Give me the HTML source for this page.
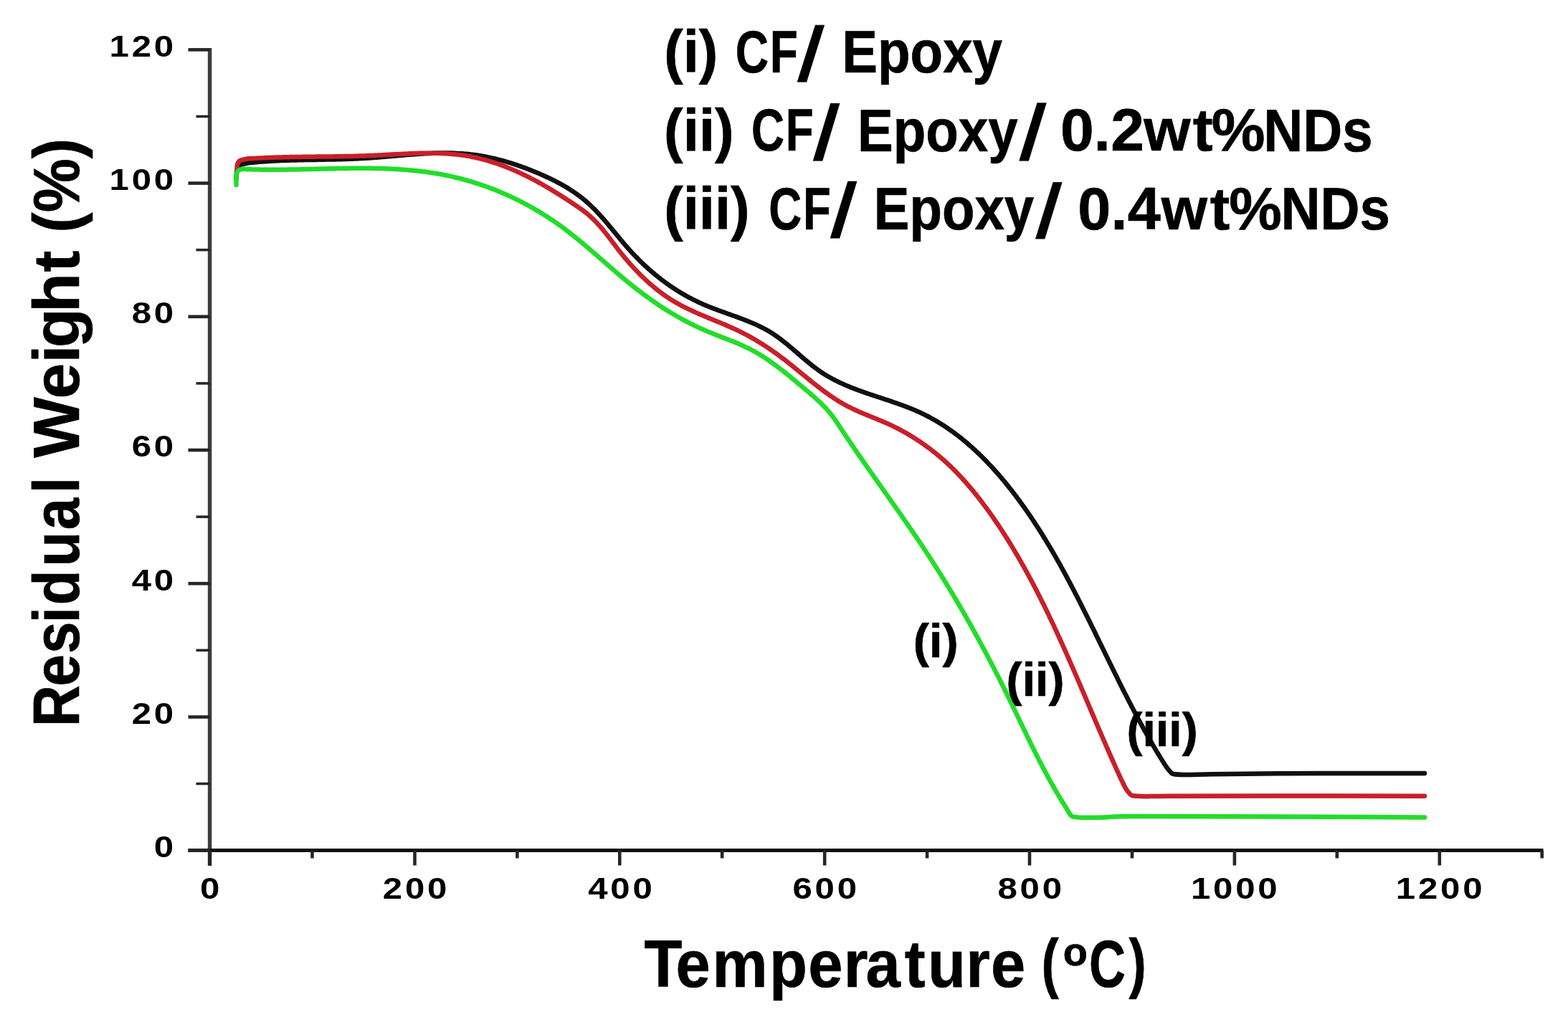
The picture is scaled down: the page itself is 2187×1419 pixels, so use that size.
<!DOCTYPE html>
<html><head><meta charset="utf-8"><title>TGA residual weight</title>
<style>html,body{margin:0;padding:0;background:#fff;}svg{display:block}</style></head>
<body><svg xmlns="http://www.w3.org/2000/svg" width="2187" height="1419" viewBox="0 0 2187 1419">
<rect width="2187" height="1419" fill="#fff"/>
<line x1="292.6" y1="66.9" x2="292.6" y2="1208" stroke="#3d3d3d" stroke-width="5.5"/><line x1="262.5" y1="1186.6" x2="2152.5" y2="1186.6" stroke="#0d0d0d" stroke-width="5"/><line x1="262.5" y1="1186.6" x2="292.6" y2="1186.6" stroke="#262626" stroke-width="4.6"/><line x1="273.5" y1="1093.5" x2="292.6" y2="1093.5" stroke="#262626" stroke-width="3.6"/><line x1="262.5" y1="1000.4" x2="292.6" y2="1000.4" stroke="#262626" stroke-width="4.6"/><line x1="273.5" y1="907.3" x2="292.6" y2="907.3" stroke="#262626" stroke-width="3.6"/><line x1="262.5" y1="814.2" x2="292.6" y2="814.2" stroke="#262626" stroke-width="4.6"/><line x1="273.5" y1="721.1" x2="292.6" y2="721.1" stroke="#262626" stroke-width="3.6"/><line x1="262.5" y1="628.0" x2="292.6" y2="628.0" stroke="#262626" stroke-width="4.6"/><line x1="273.5" y1="534.9" x2="292.6" y2="534.9" stroke="#262626" stroke-width="3.6"/><line x1="262.5" y1="441.8" x2="292.6" y2="441.8" stroke="#262626" stroke-width="4.6"/><line x1="273.5" y1="348.7" x2="292.6" y2="348.7" stroke="#262626" stroke-width="3.6"/><line x1="262.5" y1="255.6" x2="292.6" y2="255.6" stroke="#262626" stroke-width="4.6"/><line x1="273.5" y1="162.5" x2="292.6" y2="162.5" stroke="#262626" stroke-width="3.6"/><line x1="262.5" y1="69.4" x2="292.6" y2="69.4" stroke="#262626" stroke-width="4.6"/><line x1="292.6" y1="1186.6" x2="292.6" y2="1207.5" stroke="#262626" stroke-width="4.6"/><line x1="435.5" y1="1186.6" x2="435.5" y2="1197.5" stroke="#262626" stroke-width="4.6"/><line x1="578.5" y1="1186.6" x2="578.5" y2="1207.5" stroke="#262626" stroke-width="4.6"/><line x1="721.4" y1="1186.6" x2="721.4" y2="1197.5" stroke="#262626" stroke-width="4.6"/><line x1="864.3" y1="1186.6" x2="864.3" y2="1207.5" stroke="#262626" stroke-width="4.6"/><line x1="1007.2" y1="1186.6" x2="1007.2" y2="1197.5" stroke="#262626" stroke-width="4.6"/><line x1="1150.2" y1="1186.6" x2="1150.2" y2="1207.5" stroke="#262626" stroke-width="4.6"/><line x1="1293.1" y1="1186.6" x2="1293.1" y2="1197.5" stroke="#262626" stroke-width="4.6"/><line x1="1436.0" y1="1186.6" x2="1436.0" y2="1207.5" stroke="#262626" stroke-width="4.6"/><line x1="1579.0" y1="1186.6" x2="1579.0" y2="1197.5" stroke="#262626" stroke-width="4.6"/><line x1="1721.9" y1="1186.6" x2="1721.9" y2="1207.5" stroke="#262626" stroke-width="4.6"/><line x1="1864.8" y1="1186.6" x2="1864.8" y2="1197.5" stroke="#262626" stroke-width="4.6"/><line x1="2007.8" y1="1186.6" x2="2007.8" y2="1207.5" stroke="#262626" stroke-width="4.6"/><line x1="2150.7" y1="1186.6" x2="2150.7" y2="1197.5" stroke="#262626" stroke-width="4.6"/><g font-family="Liberation Sans, Arial, sans-serif" font-weight="bold" fill="#000" style="font-kerning:none"><text transform="translate(214.85,1196.00) scale(1.18,1)" font-size="41.70" letter-spacing="3.2">0</text><text transform="translate(183.71,1009.80) scale(1.18,1)" font-size="41.70" letter-spacing="3.2">20</text><text transform="translate(183.71,823.60) scale(1.18,1)" font-size="41.70" letter-spacing="3.2">40</text><text transform="translate(183.71,637.40) scale(1.18,1)" font-size="41.70" letter-spacing="3.2">60</text><text transform="translate(183.71,451.20) scale(1.18,1)" font-size="41.70" letter-spacing="3.2">80</text><text transform="translate(152.57,265.00) scale(1.18,1)" font-size="41.70" letter-spacing="3.2">100</text><text transform="translate(152.57,78.80) scale(1.18,1)" font-size="41.70" letter-spacing="3.2">120</text><text transform="translate(278.95,1253.90) scale(1.18,1)" font-size="41.70" letter-spacing="3.2">0</text><text transform="translate(533.79,1253.90) scale(1.18,1)" font-size="41.70" letter-spacing="3.2">200</text><text transform="translate(820.13,1253.90) scale(1.18,1)" font-size="41.70" letter-spacing="3.2">400</text><text transform="translate(1105.46,1253.90) scale(1.18,1)" font-size="41.70" letter-spacing="3.2">600</text><text transform="translate(1391.44,1253.90) scale(1.18,1)" font-size="41.70" letter-spacing="3.2">800</text><text transform="translate(1660.96,1253.90) scale(1.18,1)" font-size="41.70" letter-spacing="3.2">1000</text><text transform="translate(1946.82,1253.90) scale(1.18,1)" font-size="41.70" letter-spacing="3.2">1200</text></g><path d="M329.5,250.0 C329.7,248.0 329.8,241.2 330.5,238.0 C331.2,234.8 331.6,232.7 334.0,231.0 C336.4,229.3 342.8,228.1 345.0,227.5 C347.2,226.9 346.3,227.4 347.0,227.3 C347.7,227.2 348.3,227.1 349.0,227.1 C349.7,227.0 350.4,226.9 351.0,226.9 C351.7,226.8 352.4,226.7 353.0,226.7 C353.7,226.6 354.4,226.5 355.0,226.5 C355.7,226.4 356.4,226.4 357.0,226.3 C357.7,226.2 358.4,226.2 359.1,226.1 C359.7,226.1 360.4,226.0 361.1,225.9 C361.7,225.9 362.4,225.8 363.1,225.8 C363.7,225.7 364.4,225.7 365.1,225.6 C365.7,225.6 366.4,225.5 367.1,225.5 C367.7,225.4 368.4,225.4 369.1,225.3 C369.7,225.3 370.4,225.2 371.1,225.2 C371.7,225.2 372.4,225.1 373.1,225.1 C373.8,225.0 374.4,225.0 375.1,224.9 C375.8,224.9 376.4,224.9 377.1,224.8 C377.8,224.8 378.4,224.7 379.1,224.7 C379.8,224.7 380.4,224.6 381.1,224.6 C381.8,224.6 382.4,224.5 383.1,224.5 C383.8,224.5 384.4,224.4 385.1,224.4 C385.8,224.4 386.4,224.3 387.1,224.3 C387.8,224.3 388.4,224.2 389.1,224.2 C389.8,224.2 390.4,224.1 391.1,224.1 C391.8,224.1 392.4,224.1 393.1,224.0 C393.8,224.0 394.4,224.0 395.1,224.0 C395.8,223.9 396.4,223.9 397.1,223.9 C397.8,223.9 398.4,223.8 399.1,223.8 C399.7,223.8 400.4,223.8 401.1,223.7 C401.7,223.7 402.4,223.7 403.1,223.7 C403.7,223.7 404.4,223.6 405.1,223.6 C405.7,223.6 406.4,223.6 407.1,223.6 C407.7,223.5 408.4,223.5 409.1,223.5 C409.7,223.5 410.4,223.5 411.1,223.4 C411.7,223.4 412.4,223.4 413.1,223.4 C413.7,223.4 414.4,223.4 415.1,223.3 C415.7,223.3 416.4,223.3 417.1,223.3 C417.7,223.3 418.4,223.3 419.1,223.3 C419.7,223.2 420.4,223.2 421.1,223.2 C421.7,223.2 422.4,223.2 423.0,223.2 C423.7,223.2 424.4,223.1 425.0,223.1 C425.7,223.1 426.4,223.1 427.0,223.1 C427.7,223.1 428.4,223.1 429.0,223.1 C429.7,223.1 430.4,223.0 431.0,223.0 C431.7,223.0 432.4,223.0 433.0,223.0 C433.7,223.0 434.4,223.0 435.0,223.0 C435.7,223.0 436.4,222.9 437.0,222.9 C437.7,222.9 438.4,222.9 439.0,222.9 C439.7,222.9 440.3,222.9 441.0,222.9 C441.7,222.9 442.3,222.8 443.0,222.8 C443.7,222.8 444.3,222.8 445.0,222.8 C445.7,222.8 446.3,222.8 447.0,222.8 C447.7,222.8 448.3,222.8 449.0,222.7 C449.7,222.7 450.3,222.7 451.0,222.7 C451.7,222.7 452.3,222.7 453.0,222.7 C453.7,222.7 454.3,222.7 455.0,222.6 C455.7,222.6 456.3,222.6 457.0,222.6 C457.7,222.6 458.3,222.6 459.0,222.6 C459.7,222.6 460.3,222.5 461.0,222.5 C461.6,222.5 462.3,222.5 463.0,222.5 C463.6,222.5 464.3,222.5 465.0,222.4 C465.6,222.4 466.3,222.4 467.0,222.4 C467.6,222.4 468.3,222.4 469.0,222.4 C469.6,222.3 470.3,222.3 471.0,222.3 C471.6,222.3 472.3,222.3 473.0,222.3 C473.6,222.2 474.3,222.2 475.0,222.2 C475.6,222.2 476.3,222.2 477.0,222.2 C477.6,222.1 478.3,222.1 479.0,222.1 C479.6,222.1 480.3,222.1 481.0,222.0 C481.6,222.0 482.3,222.0 483.0,222.0 C483.6,222.0 484.3,221.9 485.0,221.9 C485.6,221.9 486.3,221.9 487.0,221.8 C487.6,221.8 488.3,221.8 489.0,221.8 C489.7,221.7 490.3,221.7 491.0,221.7 C491.7,221.7 492.3,221.6 493.0,221.6 C493.7,221.6 494.3,221.6 495.0,221.5 C495.7,221.5 496.3,221.5 497.0,221.4 C497.7,221.4 498.3,221.4 499.0,221.3 C499.7,221.3 500.3,221.3 501.0,221.2 C501.7,221.2 502.3,221.2 503.0,221.1 C503.7,221.1 504.4,221.1 505.0,221.0 C505.7,221.0 506.4,221.0 507.0,220.9 C507.7,220.9 508.4,220.8 509.0,220.8 C509.7,220.8 510.4,220.7 511.0,220.7 C511.7,220.6 512.4,220.6 513.1,220.5 C513.7,220.5 514.4,220.5 515.1,220.4 C515.7,220.4 516.4,220.3 517.1,220.3 C517.7,220.2 518.4,220.2 519.1,220.1 C519.7,220.1 520.4,220.0 521.1,220.0 C521.8,219.9 522.4,219.9 523.1,219.8 C523.8,219.8 524.4,219.7 525.1,219.7 C525.8,219.6 526.5,219.6 527.1,219.5 C527.8,219.5 528.5,219.4 529.1,219.4 C529.8,219.3 530.5,219.3 531.1,219.2 C531.8,219.1 532.5,219.1 533.2,219.0 C533.8,219.0 534.5,218.9 535.2,218.9 C535.8,218.8 536.5,218.7 537.2,218.7 C537.9,218.6 538.5,218.6 539.2,218.5 C539.9,218.5 540.5,218.4 541.2,218.3 C541.9,218.3 542.6,218.2 543.2,218.2 C543.9,218.1 544.6,218.1 545.2,218.0 C545.9,217.9 546.6,217.9 547.3,217.8 C547.9,217.8 548.6,217.7 549.3,217.6 C549.9,217.6 550.6,217.5 551.3,217.5 C552.0,217.4 552.6,217.3 553.3,217.3 C554.0,217.2 554.6,217.2 555.3,217.1 C556.0,217.1 556.7,217.0 557.3,216.9 C558.0,216.9 558.7,216.8 559.3,216.8 C560.0,216.7 560.7,216.7 561.4,216.6 C562.0,216.5 562.7,216.5 563.4,216.4 C564.0,216.4 564.7,216.3 565.4,216.3 C566.0,216.2 566.7,216.1 567.4,216.1 C568.1,216.0 568.7,216.0 569.4,215.9 C570.1,215.9 570.7,215.8 571.4,215.8 C572.1,215.7 572.8,215.7 573.4,215.6 C574.1,215.6 574.8,215.5 575.4,215.5 C576.1,215.4 576.8,215.4 577.4,215.3 C578.1,215.3 578.8,215.2 579.5,215.2 C580.1,215.1 580.8,215.1 581.5,215.0 C582.1,215.0 582.8,214.9 583.5,214.9 C584.1,214.8 584.8,214.8 585.5,214.7 C586.2,214.7 586.8,214.7 587.5,214.6 C588.2,214.6 588.8,214.5 589.5,214.5 C590.2,214.4 590.8,214.4 591.5,214.4 C592.2,214.3 592.8,214.3 593.5,214.3 C594.2,214.2 594.9,214.2 595.5,214.2 C596.2,214.1 596.9,214.1 597.5,214.1 C598.2,214.0 598.9,214.0 599.5,214.0 C600.2,213.9 600.9,213.9 601.5,213.9 C602.2,213.9 602.9,213.8 603.5,213.8 C604.2,213.8 604.9,213.8 605.5,213.7 C606.2,213.7 606.9,213.7 607.5,213.7 C608.2,213.6 608.9,213.6 609.5,213.6 C610.2,213.6 610.9,213.6 611.5,213.6 C612.2,213.6 612.9,213.5 613.5,213.5 C614.2,213.5 614.9,213.5 615.5,213.5 C616.2,213.5 616.9,213.5 617.5,213.5 C618.2,213.5 618.9,213.5 619.5,213.5 C620.2,213.5 620.9,213.5 621.5,213.5 C622.2,213.5 622.8,213.5 623.5,213.5 C624.2,213.5 624.8,213.5 625.5,213.5 C626.2,213.5 626.8,213.5 627.5,213.5 C628.2,213.5 628.8,213.6 629.5,213.6 C630.1,213.6 630.8,213.6 631.5,213.6 C632.1,213.7 632.8,213.7 633.5,213.7 C634.1,213.7 634.8,213.7 635.4,213.8 C636.1,213.8 636.8,213.8 637.4,213.9 C638.1,213.9 638.7,213.9 639.4,214.0 C640.1,214.0 640.7,214.0 641.4,214.1 C642.0,214.1 642.7,214.2 643.4,214.2 C644.0,214.2 644.7,214.3 645.3,214.3 C646.0,214.4 646.7,214.4 647.3,214.5 C648.0,214.5 648.6,214.6 649.3,214.7 C650.0,214.7 650.6,214.8 651.3,214.8 C651.9,214.9 652.6,215.0 653.2,215.0 C653.9,215.1 654.6,215.2 655.2,215.2 C655.9,215.3 656.5,215.4 657.2,215.5 C657.8,215.5 658.5,215.6 659.2,215.7 C659.8,215.8 660.5,215.9 661.1,216.0 C661.8,216.1 662.4,216.1 663.1,216.2 C663.7,216.3 664.4,216.4 665.0,216.5 C665.7,216.6 666.4,216.7 667.0,216.8 C667.7,216.9 668.3,217.0 669.0,217.1 C669.6,217.2 670.3,217.3 670.9,217.4 C671.6,217.6 672.2,217.7 672.9,217.8 C673.5,217.9 674.2,218.0 674.8,218.1 C675.5,218.3 676.1,218.4 676.8,218.5 C677.4,218.6 678.1,218.7 678.7,218.9 C679.4,219.0 680.0,219.1 680.7,219.3 C681.3,219.4 682.0,219.5 682.6,219.7 C683.3,219.8 683.9,220.0 684.6,220.1 C685.2,220.2 685.9,220.4 686.5,220.5 C687.2,220.7 687.8,220.8 688.5,221.0 C689.1,221.1 689.7,221.3 690.4,221.4 C691.0,221.6 691.7,221.7 692.3,221.9 C693.0,222.0 693.6,222.2 694.3,222.4 C694.9,222.5 695.5,222.7 696.2,222.9 C696.8,223.0 697.5,223.2 698.1,223.4 C698.8,223.5 699.4,223.7 700.1,223.9 C700.7,224.1 701.3,224.2 702.0,224.4 C702.6,224.6 703.3,224.8 703.9,225.0 C704.5,225.1 705.2,225.3 705.8,225.5 C706.5,225.7 707.1,225.9 707.7,226.1 C708.4,226.3 709.0,226.5 709.7,226.7 C710.3,226.8 710.9,227.0 711.6,227.2 C712.2,227.4 712.9,227.6 713.5,227.8 C714.1,228.0 714.8,228.2 715.4,228.4 C716.0,228.6 716.7,228.9 717.3,229.1 C718.0,229.3 718.6,229.5 719.2,229.7 C719.9,229.9 720.5,230.1 721.1,230.3 C721.8,230.6 722.4,230.8 723.0,231.0 C723.7,231.2 724.3,231.4 724.9,231.6 C725.6,231.9 726.2,232.1 726.8,232.3 C727.5,232.5 728.1,232.8 728.7,233.0 C729.4,233.2 730.0,233.5 730.6,233.7 C731.3,233.9 731.9,234.2 732.5,234.4 C733.1,234.6 733.8,234.9 734.4,235.1 C735.0,235.3 735.7,235.6 736.3,235.8 C736.9,236.1 737.5,236.3 738.2,236.6 C738.8,236.8 739.4,237.1 740.1,237.3 C740.7,237.6 741.3,237.8 741.9,238.1 C742.6,238.3 743.2,238.6 743.8,238.8 C744.4,239.1 745.1,239.3 745.7,239.6 C746.3,239.8 746.9,240.1 747.6,240.4 C748.2,240.6 748.8,240.9 749.4,241.1 C750.1,241.4 750.7,241.7 751.3,241.9 C751.9,242.2 752.5,242.5 753.2,242.7 C753.8,243.0 754.4,243.3 755.0,243.6 C755.7,243.8 756.3,244.1 756.9,244.4 C757.5,244.6 758.1,244.9 758.7,245.2 C759.4,245.5 760.0,245.8 760.6,246.0 C761.2,246.3 761.8,246.6 762.4,246.9 C763.1,247.2 763.7,247.5 764.3,247.7 C764.9,248.0 765.5,248.3 766.1,248.6 C766.7,248.9 767.3,249.2 768.0,249.5 C768.6,249.8 769.2,250.1 769.8,250.4 C770.4,250.7 771.0,251.0 771.6,251.3 C772.2,251.6 772.8,251.9 773.4,252.2 C774.0,252.5 774.6,252.8 775.2,253.1 C775.8,253.4 776.4,253.7 777.0,254.1 C777.6,254.4 778.2,254.7 778.8,255.0 C779.4,255.3 780.0,255.6 780.6,256.0 C781.2,256.3 781.8,256.6 782.4,256.9 C783.0,257.3 783.5,257.6 784.1,257.9 C784.7,258.2 785.3,258.6 785.9,258.9 C786.5,259.2 787.0,259.6 787.6,259.9 C788.2,260.3 788.8,260.6 789.4,260.9 C789.9,261.3 790.5,261.6 791.1,262.0 C791.7,262.3 792.2,262.7 792.8,263.0 C793.4,263.4 793.9,263.7 794.5,264.1 C795.1,264.5 795.6,264.8 796.2,265.2 C796.7,265.5 797.3,265.9 797.9,266.3 C798.4,266.6 799.0,267.0 799.5,267.4 C800.1,267.7 800.6,268.1 801.2,268.5 C801.7,268.9 802.3,269.3 802.8,269.6 C803.4,270.0 803.9,270.4 804.4,270.8 C805.0,271.2 805.5,271.6 806.0,272.0 C806.6,272.4 807.1,272.7 807.6,273.1 C808.2,273.5 808.7,273.9 809.2,274.3 C809.7,274.7 810.3,275.2 810.8,275.6 C811.3,276.0 811.8,276.4 812.3,276.8 C812.9,277.2 813.4,277.6 813.9,278.0 C814.4,278.5 814.9,278.9 815.4,279.3 C815.9,279.7 816.4,280.2 816.9,280.6 C817.4,281.0 817.9,281.4 818.4,281.9 C818.9,282.3 819.4,282.7 819.9,283.2 C820.4,283.6 820.9,284.1 821.4,284.5 C821.8,285.0 822.3,285.4 822.8,285.9 C823.3,286.3 823.8,286.8 824.2,287.2 C824.7,287.7 825.2,288.1 825.7,288.6 C826.1,289.0 826.6,289.5 827.1,290.0 C827.6,290.4 828.0,290.9 828.5,291.4 C829.0,291.8 829.4,292.3 829.9,292.8 C830.3,293.3 830.8,293.7 831.3,294.2 C831.7,294.7 832.2,295.2 832.6,295.6 C833.1,296.1 833.5,296.6 834.0,297.1 C834.4,297.6 834.9,298.1 835.3,298.5 C835.8,299.0 836.2,299.5 836.7,300.0 C837.1,300.5 837.6,301.0 838.0,301.5 C838.5,302.0 838.9,302.5 839.3,303.0 C839.8,303.5 840.2,304.0 840.7,304.4 C841.1,304.9 841.5,305.4 842.0,305.9 C842.4,306.4 842.8,306.9 843.3,307.5 C843.7,308.0 844.1,308.5 844.6,309.0 C845.0,309.5 845.4,310.0 845.9,310.5 C846.3,311.0 846.7,311.5 847.2,312.0 C847.6,312.5 848.0,313.0 848.4,313.5 C848.9,314.0 849.3,314.5 849.7,315.1 C850.1,315.6 850.6,316.1 851.0,316.6 C851.4,317.1 851.9,317.6 852.3,318.1 C852.7,318.6 853.1,319.2 853.6,319.7 C854.0,320.2 854.4,320.7 854.8,321.2 C855.2,321.7 855.7,322.2 856.1,322.8 C856.5,323.3 856.9,323.8 857.4,324.3 C857.8,324.8 858.2,325.3 858.6,325.9 C859.1,326.4 859.5,326.9 859.9,327.4 C860.3,327.9 860.8,328.4 861.2,328.9 C861.6,329.5 862.0,330.0 862.5,330.5 C862.9,331.0 863.3,331.5 863.7,332.0 C864.2,332.5 864.6,333.1 865.0,333.6 C865.4,334.1 865.9,334.6 866.3,335.1 C866.7,335.6 867.2,336.1 867.6,336.6 C868.0,337.2 868.4,337.7 868.9,338.2 C869.3,338.7 869.7,339.2 870.2,339.7 C870.6,340.2 871.0,340.7 871.5,341.2 C871.9,341.7 872.3,342.2 872.8,342.7 C873.2,343.2 873.6,343.7 874.1,344.3 C874.5,344.8 875.0,345.3 875.4,345.8 C875.8,346.3 876.3,346.8 876.7,347.3 C877.2,347.7 877.6,348.2 878.1,348.7 C878.5,349.2 878.9,349.7 879.4,350.2 C879.8,350.7 880.3,351.2 880.7,351.7 C881.2,352.2 881.6,352.7 882.1,353.2 C882.6,353.6 883.0,354.1 883.5,354.6 C883.9,355.1 884.4,355.6 884.8,356.1 C885.3,356.5 885.8,357.0 886.2,357.5 C886.7,358.0 887.1,358.5 887.6,358.9 C888.1,359.4 888.5,359.9 889.0,360.4 C889.5,360.8 889.9,361.3 890.4,361.8 C890.9,362.2 891.3,362.7 891.8,363.2 C892.3,363.6 892.8,364.1 893.2,364.6 C893.7,365.0 894.2,365.5 894.7,366.0 C895.1,366.4 895.6,366.9 896.1,367.3 C896.6,367.8 897.1,368.3 897.5,368.7 C898.0,369.2 898.5,369.6 899.0,370.1 C899.5,370.5 900.0,371.0 900.4,371.4 C900.9,371.9 901.4,372.3 901.9,372.8 C902.4,373.2 902.9,373.7 903.4,374.1 C903.9,374.6 904.4,375.0 904.9,375.4 C905.4,375.9 905.8,376.3 906.3,376.8 C906.8,377.2 907.3,377.6 907.8,378.1 C908.3,378.5 908.8,378.9 909.3,379.4 C909.9,379.8 910.4,380.2 910.9,380.6 C911.4,381.1 911.9,381.5 912.4,381.9 C912.9,382.3 913.4,382.8 913.9,383.2 C914.4,383.6 914.9,384.0 915.4,384.4 C916.0,384.9 916.5,385.3 917.0,385.7 C917.5,386.1 918.0,386.5 918.5,386.9 C919.1,387.3 919.6,387.7 920.1,388.2 C920.6,388.6 921.1,389.0 921.7,389.4 C922.2,389.8 922.7,390.2 923.2,390.6 C923.8,391.0 924.3,391.4 924.8,391.8 C925.3,392.2 925.9,392.6 926.4,393.0 C926.9,393.4 927.5,393.7 928.0,394.1 C928.5,394.5 929.1,394.9 929.6,395.3 C930.1,395.7 930.7,396.1 931.2,396.4 C931.8,396.8 932.3,397.2 932.8,397.6 C933.4,398.0 933.9,398.3 934.5,398.7 C935.0,399.1 935.6,399.5 936.1,399.8 C936.6,400.2 937.2,400.6 937.7,401.0 C938.3,401.3 938.8,401.7 939.4,402.0 C939.9,402.4 940.5,402.8 941.1,403.1 C941.6,403.5 942.2,403.9 942.7,404.2 C943.3,404.6 943.8,404.9 944.4,405.3 C945.0,405.6 945.5,406.0 946.1,406.3 C946.6,406.7 947.2,407.0 947.8,407.4 C948.3,407.7 948.9,408.1 949.5,408.4 C950.0,408.7 950.6,409.1 951.2,409.4 C951.7,409.7 952.3,410.1 952.9,410.4 C953.5,410.7 954.0,411.1 954.6,411.4 C955.2,411.7 955.8,412.1 956.3,412.4 C956.9,412.7 957.5,413.0 958.1,413.4 C958.6,413.7 959.2,414.0 959.8,414.3 C960.4,414.6 961.0,414.9 961.6,415.3 C962.1,415.6 962.7,415.9 963.3,416.2 C963.9,416.5 964.5,416.8 965.1,417.1 C965.7,417.4 966.3,417.7 966.9,418.0 C967.5,418.3 968.0,418.6 968.6,418.9 C969.2,419.2 969.8,419.5 970.4,419.8 C971.0,420.1 971.6,420.4 972.2,420.7 C972.8,420.9 973.4,421.2 974.0,421.5 C974.6,421.8 975.2,422.1 975.8,422.4 C976.4,422.6 977.1,422.9 977.7,423.2 C978.3,423.5 978.9,423.7 979.5,424.0 C980.1,424.3 980.7,424.5 981.3,424.8 C981.9,425.1 982.6,425.3 983.2,425.6 C983.8,425.9 984.4,426.1 985.0,426.4 C985.6,426.6 986.3,426.9 986.9,427.1 C987.5,427.4 988.1,427.7 988.7,427.9 C989.4,428.2 990.0,428.4 990.6,428.6 C991.2,428.9 991.8,429.1 992.5,429.4 C993.1,429.6 993.7,429.9 994.4,430.1 C995.0,430.4 995.6,430.6 996.2,430.8 C996.9,431.1 997.5,431.3 998.1,431.5 C998.8,431.8 999.4,432.0 1000.0,432.3 C1000.6,432.5 1001.3,432.7 1001.9,433.0 C1002.5,433.2 1003.2,433.4 1003.8,433.6 C1004.4,433.9 1005.1,434.1 1005.7,434.3 C1006.3,434.6 1007.0,434.8 1007.6,435.0 C1008.2,435.3 1008.9,435.5 1009.5,435.7 C1010.1,435.9 1010.8,436.2 1011.4,436.4 C1012.0,436.6 1012.7,436.8 1013.3,437.1 C1014.0,437.3 1014.6,437.5 1015.2,437.8 C1015.9,438.0 1016.5,438.2 1017.1,438.4 C1017.8,438.7 1018.4,438.9 1019.0,439.1 C1019.7,439.3 1020.3,439.6 1020.9,439.8 C1021.6,440.0 1022.2,440.2 1022.8,440.5 C1023.5,440.7 1024.1,440.9 1024.7,441.2 C1025.4,441.4 1026.0,441.6 1026.6,441.8 C1027.3,442.1 1027.9,442.3 1028.5,442.5 C1029.2,442.8 1029.8,443.0 1030.4,443.2 C1031.1,443.5 1031.7,443.7 1032.3,443.9 C1033.0,444.2 1033.6,444.4 1034.2,444.6 C1034.8,444.9 1035.5,445.1 1036.1,445.4 C1036.7,445.6 1037.4,445.8 1038.0,446.1 C1038.6,446.3 1039.2,446.6 1039.9,446.8 C1040.5,447.1 1041.1,447.3 1041.7,447.6 C1042.3,447.8 1043.0,448.1 1043.6,448.3 C1044.2,448.6 1044.8,448.8 1045.4,449.1 C1046.1,449.3 1046.7,449.6 1047.3,449.8 C1047.9,450.1 1048.5,450.4 1049.1,450.6 C1049.8,450.9 1050.4,451.2 1051.0,451.4 C1051.6,451.7 1052.2,452.0 1052.8,452.2 C1053.4,452.5 1054.0,452.8 1054.6,453.0 C1055.2,453.3 1055.8,453.6 1056.4,453.9 C1057.0,454.2 1057.6,454.5 1058.2,454.7 C1058.8,455.0 1059.4,455.3 1060.0,455.6 C1060.6,455.9 1061.2,456.2 1061.8,456.5 C1062.4,456.8 1063.0,457.1 1063.6,457.4 C1064.2,457.7 1064.8,458.0 1065.4,458.3 C1066.0,458.6 1066.5,458.9 1067.1,459.2 C1067.7,459.6 1068.3,459.9 1068.9,460.2 C1069.4,460.5 1070.0,460.9 1070.6,461.2 C1071.2,461.5 1071.7,461.8 1072.3,462.2 C1072.9,462.5 1073.5,462.9 1074.0,463.2 C1074.6,463.5 1075.2,463.9 1075.7,464.2 C1076.3,464.6 1076.8,465.0 1077.4,465.3 C1078.0,465.7 1078.5,466.0 1079.1,466.4 C1079.6,466.8 1080.2,467.1 1080.7,467.5 C1081.3,467.9 1081.8,468.3 1082.4,468.6 C1082.9,469.0 1083.4,469.4 1084.0,469.8 C1084.5,470.2 1085.1,470.6 1085.6,470.9 C1086.2,471.3 1086.7,471.7 1087.2,472.1 C1087.8,472.5 1088.3,472.9 1088.8,473.3 C1089.4,473.7 1089.9,474.1 1090.4,474.5 C1090.9,475.0 1091.5,475.4 1092.0,475.8 C1092.5,476.2 1093.1,476.6 1093.6,477.0 C1094.1,477.4 1094.6,477.8 1095.2,478.3 C1095.7,478.7 1096.2,479.1 1096.7,479.5 C1097.2,480.0 1097.8,480.4 1098.3,480.8 C1098.8,481.2 1099.3,481.7 1099.8,482.1 C1100.3,482.5 1100.9,483.0 1101.4,483.4 C1101.9,483.8 1102.4,484.3 1102.9,484.7 C1103.4,485.1 1103.9,485.6 1104.5,486.0 C1105.0,486.4 1105.5,486.9 1106.0,487.3 C1106.5,487.7 1107.0,488.2 1107.5,488.6 C1108.0,489.1 1108.5,489.5 1109.1,489.9 C1109.6,490.4 1110.1,490.8 1110.6,491.3 C1111.1,491.7 1111.6,492.1 1112.1,492.6 C1112.6,493.0 1113.1,493.5 1113.6,493.9 C1114.1,494.3 1114.7,494.8 1115.2,495.2 C1115.7,495.7 1116.2,496.1 1116.7,496.6 C1117.2,497.0 1117.7,497.4 1118.2,497.9 C1118.7,498.3 1119.2,498.7 1119.8,499.2 C1120.3,499.6 1120.8,500.1 1121.3,500.5 C1121.8,500.9 1122.3,501.4 1122.8,501.8 C1123.3,502.2 1123.9,502.7 1124.4,503.1 C1124.9,503.5 1125.4,504.0 1125.9,504.4 C1126.4,504.8 1126.9,505.2 1127.5,505.7 C1128.0,506.1 1128.5,506.5 1129.0,506.9 C1129.5,507.4 1130.1,507.8 1130.6,508.2 C1131.1,508.6 1131.6,509.0 1132.1,509.5 C1132.7,509.9 1133.2,510.3 1133.7,510.7 C1134.2,511.1 1134.8,511.5 1135.3,511.9 C1135.8,512.3 1136.4,512.7 1136.9,513.1 C1137.4,513.5 1138.0,513.9 1138.5,514.3 C1139.0,514.7 1139.6,515.1 1140.1,515.5 C1140.6,515.9 1141.2,516.3 1141.7,516.7 C1142.3,517.1 1142.8,517.4 1143.3,517.8 C1143.9,518.2 1144.4,518.6 1145.0,518.9 C1145.5,519.3 1146.1,519.7 1146.6,520.1 C1147.2,520.4 1147.7,520.8 1148.3,521.1 C1148.8,521.5 1149.4,521.9 1150.0,522.2 C1150.5,522.6 1151.1,522.9 1151.6,523.2 C1152.2,523.6 1152.8,523.9 1153.3,524.3 C1153.9,524.6 1154.5,524.9 1155.1,525.3 C1155.6,525.6 1156.2,525.9 1156.8,526.3 C1157.3,526.6 1157.9,526.9 1158.5,527.2 C1159.1,527.6 1159.7,527.9 1160.2,528.2 C1160.8,528.5 1161.4,528.8 1162.0,529.1 C1162.6,529.4 1163.1,529.7 1163.7,530.0 C1164.3,530.3 1164.9,530.6 1165.5,530.9 C1166.1,531.2 1166.7,531.5 1167.3,531.8 C1167.9,532.1 1168.5,532.4 1169.1,532.7 C1169.7,533.0 1170.2,533.3 1170.8,533.6 C1171.4,533.8 1172.0,534.1 1172.6,534.4 C1173.2,534.7 1173.8,535.0 1174.5,535.2 C1175.1,535.5 1175.7,535.8 1176.3,536.0 C1176.9,536.3 1177.5,536.6 1178.1,536.8 C1178.7,537.1 1179.3,537.4 1179.9,537.6 C1180.5,537.9 1181.1,538.2 1181.8,538.4 C1182.4,538.7 1183.0,538.9 1183.6,539.2 C1184.2,539.4 1184.8,539.7 1185.4,539.9 C1186.1,540.2 1186.7,540.4 1187.3,540.7 C1187.9,540.9 1188.5,541.2 1189.2,541.4 C1189.8,541.7 1190.4,541.9 1191.0,542.1 C1191.6,542.4 1192.3,542.6 1192.9,542.9 C1193.5,543.1 1194.1,543.3 1194.8,543.6 C1195.4,543.8 1196.0,544.0 1196.7,544.3 C1197.3,544.5 1197.9,544.7 1198.5,545.0 C1199.2,545.2 1199.8,545.4 1200.4,545.6 C1201.1,545.9 1201.7,546.1 1202.3,546.3 C1202.9,546.5 1203.6,546.8 1204.2,547.0 C1204.8,547.2 1205.5,547.4 1206.1,547.7 C1206.7,547.9 1207.4,548.1 1208.0,548.3 C1208.6,548.5 1209.3,548.8 1209.9,549.0 C1210.6,549.2 1211.2,549.4 1211.8,549.6 C1212.5,549.8 1213.1,550.1 1213.7,550.3 C1214.4,550.5 1215.0,550.7 1215.7,550.9 C1216.3,551.1 1216.9,551.3 1217.6,551.6 C1218.2,551.8 1218.8,552.0 1219.5,552.2 C1220.1,552.4 1220.8,552.6 1221.4,552.8 C1222.0,553.0 1222.7,553.2 1223.3,553.5 C1224.0,553.7 1224.6,553.9 1225.2,554.1 C1225.9,554.3 1226.5,554.5 1227.2,554.7 C1227.8,554.9 1228.4,555.1 1229.1,555.4 C1229.7,555.6 1230.3,555.8 1231.0,556.0 C1231.6,556.2 1232.3,556.4 1232.9,556.6 C1233.5,556.8 1234.2,557.0 1234.8,557.3 C1235.5,557.5 1236.1,557.7 1236.7,557.9 C1237.4,558.1 1238.0,558.3 1238.7,558.5 C1239.3,558.7 1239.9,559.0 1240.6,559.2 C1241.2,559.4 1241.8,559.6 1242.5,559.8 C1243.1,560.0 1243.8,560.3 1244.4,560.5 C1245.0,560.7 1245.7,560.9 1246.3,561.1 C1246.9,561.3 1247.6,561.6 1248.2,561.8 C1248.8,562.0 1249.5,562.2 1250.1,562.4 C1250.7,562.7 1251.4,562.9 1252.0,563.1 C1252.6,563.3 1253.3,563.6 1253.9,563.8 C1254.5,564.0 1255.2,564.2 1255.8,564.5 C1256.4,564.7 1257.1,564.9 1257.7,565.1 C1258.3,565.4 1259.0,565.6 1259.6,565.8 C1260.2,566.1 1260.8,566.3 1261.5,566.5 C1262.1,566.8 1262.7,567.0 1263.3,567.2 C1264.0,567.5 1264.6,567.7 1265.2,568.0 C1265.8,568.2 1266.5,568.4 1267.1,568.7 C1267.7,568.9 1268.3,569.2 1268.9,569.4 C1269.6,569.7 1270.2,569.9 1270.8,570.2 C1271.4,570.4 1272.0,570.7 1272.6,570.9 C1273.3,571.2 1273.9,571.4 1274.5,571.7 C1275.1,572.0 1275.7,572.2 1276.3,572.5 C1276.9,572.7 1277.5,573.0 1278.2,573.3 C1278.8,573.5 1279.4,573.8 1280.0,574.1 C1280.6,574.3 1281.2,574.6 1281.8,574.9 C1282.4,575.2 1283.0,575.4 1283.6,575.7 C1284.2,576.0 1284.8,576.3 1285.4,576.6 C1286.0,576.9 1286.6,577.1 1287.2,577.4 C1287.8,577.7 1288.4,578.0 1289.0,578.3 C1289.6,578.6 1290.2,578.9 1290.8,579.2 C1291.3,579.5 1291.9,579.8 1292.5,580.1 C1293.1,580.4 1293.7,580.7 1294.3,581.0 C1294.9,581.3 1295.5,581.6 1296.0,581.9 C1296.6,582.2 1297.2,582.5 1297.8,582.9 C1298.4,583.2 1298.9,583.5 1299.5,583.8 C1300.1,584.1 1300.7,584.4 1301.3,584.8 C1301.8,585.1 1302.4,585.4 1303.0,585.8 C1303.6,586.1 1304.1,586.4 1304.7,586.7 C1305.3,587.1 1305.8,587.4 1306.4,587.7 C1307.0,588.1 1307.5,588.4 1308.1,588.8 C1308.7,589.1 1309.2,589.4 1309.8,589.8 C1310.4,590.1 1310.9,590.5 1311.5,590.8 C1312.0,591.2 1312.6,591.5 1313.2,591.9 C1313.7,592.2 1314.3,592.6 1314.8,592.9 C1315.4,593.3 1315.9,593.7 1316.5,594.0 C1317.1,594.4 1317.6,594.7 1318.2,595.1 C1318.7,595.5 1319.3,595.8 1319.8,596.2 C1320.4,596.6 1320.9,596.9 1321.5,597.3 C1322.0,597.7 1322.5,598.1 1323.1,598.4 C1323.6,598.8 1324.2,599.2 1324.7,599.6 C1325.3,599.9 1325.8,600.3 1326.3,600.7 C1326.9,601.1 1327.4,601.5 1327.9,601.9 C1328.5,602.2 1329.0,602.6 1329.6,603.0 C1330.1,603.4 1330.6,603.8 1331.2,604.2 C1331.7,604.6 1332.2,605.0 1332.7,605.4 C1333.3,605.8 1333.8,606.2 1334.3,606.6 C1334.9,607.0 1335.4,607.4 1335.9,607.8 C1336.4,608.2 1337.0,608.6 1337.5,609.0 C1338.0,609.4 1338.5,609.8 1339.0,610.2 C1339.6,610.6 1340.1,611.1 1340.6,611.5 C1341.1,611.9 1341.6,612.3 1342.2,612.7 C1342.7,613.1 1343.2,613.6 1343.7,614.0 C1344.2,614.4 1344.7,614.8 1345.2,615.2 C1345.7,615.7 1346.3,616.1 1346.8,616.5 C1347.3,616.9 1347.8,617.4 1348.3,617.8 C1348.8,618.2 1349.3,618.7 1349.8,619.1 C1350.3,619.5 1350.8,620.0 1351.3,620.4 C1351.8,620.8 1352.3,621.3 1352.8,621.7 C1353.3,622.2 1353.8,622.6 1354.3,623.0 C1354.8,623.5 1355.3,623.9 1355.8,624.4 C1356.3,624.8 1356.8,625.3 1357.3,625.7 C1357.8,626.2 1358.3,626.6 1358.8,627.0 C1359.2,627.5 1359.7,628.0 1360.2,628.4 C1360.7,628.9 1361.2,629.3 1361.7,629.8 C1362.2,630.2 1362.7,630.7 1363.1,631.1 C1363.6,631.6 1364.1,632.1 1364.6,632.5 C1365.1,633.0 1365.6,633.4 1366.0,633.9 C1366.5,634.4 1367.0,634.8 1367.5,635.3 C1367.9,635.8 1368.4,636.2 1368.9,636.7 C1369.4,637.2 1369.9,637.6 1370.3,638.1 C1370.8,638.6 1371.3,639.1 1371.7,639.5 C1372.2,640.0 1372.7,640.5 1373.2,641.0 C1373.6,641.4 1374.1,641.9 1374.6,642.4 C1375.0,642.9 1375.5,643.4 1376.0,643.8 C1376.4,644.3 1376.9,644.8 1377.3,645.3 C1377.8,645.8 1378.3,646.3 1378.7,646.7 C1379.2,647.2 1379.7,647.7 1380.1,648.2 C1380.6,648.7 1381.0,649.2 1381.5,649.7 C1381.9,650.2 1382.4,650.6 1382.9,651.1 C1383.3,651.6 1383.8,652.1 1384.2,652.6 C1384.7,653.1 1385.1,653.6 1385.6,654.1 C1386.0,654.6 1386.5,655.1 1386.9,655.6 C1387.4,656.1 1387.8,656.6 1388.3,657.1 C1388.7,657.6 1389.2,658.1 1389.6,658.6 C1390.0,659.1 1390.5,659.6 1390.9,660.1 C1391.4,660.6 1391.8,661.1 1392.3,661.6 C1392.7,662.1 1393.1,662.6 1393.6,663.1 C1394.0,663.7 1394.4,664.2 1394.9,664.7 C1395.3,665.2 1395.8,665.7 1396.2,666.2 C1396.6,666.7 1397.1,667.2 1397.5,667.7 C1397.9,668.3 1398.4,668.8 1398.8,669.3 C1399.2,669.8 1399.6,670.3 1400.1,670.8 C1400.5,671.3 1400.9,671.9 1401.4,672.4 C1401.8,672.9 1402.2,673.4 1402.6,673.9 C1403.1,674.5 1403.5,675.0 1403.9,675.5 C1404.3,676.0 1404.8,676.5 1405.2,677.1 C1405.6,677.6 1406.0,678.1 1406.4,678.6 C1406.9,679.2 1407.3,679.7 1407.7,680.2 C1408.1,680.7 1408.5,681.3 1408.9,681.8 C1409.4,682.3 1409.8,682.8 1410.2,683.4 C1410.6,683.9 1411.0,684.4 1411.4,684.9 C1411.8,685.5 1412.2,686.0 1412.6,686.5 C1413.1,687.1 1413.5,687.6 1413.9,688.1 C1414.3,688.7 1414.7,689.2 1415.1,689.7 C1415.5,690.3 1415.9,690.8 1416.3,691.3 C1416.7,691.9 1417.1,692.4 1417.5,692.9 C1417.9,693.5 1418.3,694.0 1418.7,694.5 C1419.1,695.1 1419.5,695.6 1419.9,696.1 C1420.3,696.7 1420.7,697.2 1421.1,697.7 C1421.5,698.3 1421.9,698.8 1422.3,699.4 C1422.7,699.9 1423.1,700.4 1423.5,701.0 C1423.9,701.5 1424.3,702.1 1424.7,702.6 C1425.1,703.1 1425.5,703.7 1425.8,704.2 C1426.2,704.8 1426.6,705.3 1427.0,705.9 C1427.4,706.4 1427.8,706.9 1428.2,707.5 C1428.6,708.0 1428.9,708.6 1429.3,709.1 C1429.7,709.7 1430.1,710.2 1430.5,710.8 C1430.9,711.3 1431.3,711.8 1431.6,712.4 C1432.0,712.9 1432.4,713.5 1432.8,714.0 C1433.2,714.6 1433.5,715.1 1433.9,715.7 C1434.3,716.2 1434.7,716.8 1435.1,717.3 C1435.4,717.9 1435.8,718.4 1436.2,719.0 C1436.6,719.5 1436.9,720.1 1437.3,720.6 C1437.7,721.2 1438.1,721.7 1438.4,722.3 C1438.8,722.8 1439.2,723.4 1439.5,724.0 C1439.9,724.5 1440.3,725.1 1440.7,725.6 C1441.0,726.2 1441.4,726.7 1441.8,727.3 C1442.1,727.8 1442.5,728.4 1442.9,729.0 C1443.2,729.5 1443.6,730.1 1444.0,730.6 C1444.3,731.2 1444.7,731.7 1445.0,732.3 C1445.4,732.9 1445.8,733.4 1446.1,734.0 C1446.5,734.5 1446.9,735.1 1447.2,735.6 C1447.6,736.2 1447.9,736.8 1448.3,737.3 C1448.7,737.9 1449.0,738.5 1449.4,739.0 C1449.7,739.6 1450.1,740.1 1450.4,740.7 C1450.8,741.3 1451.2,741.8 1451.5,742.4 C1451.9,743.0 1452.2,743.5 1452.6,744.1 C1452.9,744.6 1453.3,745.2 1453.6,745.8 C1454.0,746.3 1454.3,746.9 1454.7,747.5 C1455.0,748.0 1455.4,748.6 1455.7,749.2 C1456.1,749.7 1456.4,750.3 1456.8,750.9 C1457.1,751.4 1457.5,752.0 1457.8,752.6 C1458.2,753.1 1458.5,753.7 1458.9,754.3 C1459.2,754.9 1459.6,755.4 1459.9,756.0 C1460.3,756.6 1460.6,757.1 1460.9,757.7 C1461.3,758.3 1461.6,758.8 1462.0,759.4 C1462.3,760.0 1462.7,760.6 1463.0,761.1 C1463.3,761.7 1463.7,762.3 1464.0,762.8 C1464.4,763.4 1464.7,764.0 1465.0,764.6 C1465.4,765.1 1465.7,765.7 1466.1,766.3 C1466.4,766.9 1466.7,767.4 1467.1,768.0 C1467.4,768.6 1467.7,769.2 1468.1,769.7 C1468.4,770.3 1468.7,770.9 1469.1,771.5 C1469.4,772.0 1469.7,772.6 1470.1,773.2 C1470.4,773.8 1470.7,774.3 1471.1,774.9 C1471.4,775.5 1471.7,776.1 1472.1,776.7 C1472.4,777.2 1472.7,777.8 1473.1,778.4 C1473.4,779.0 1473.7,779.5 1474.1,780.1 C1474.4,780.7 1474.7,781.3 1475.0,781.9 C1475.4,782.4 1475.7,783.0 1476.0,783.6 C1476.3,784.2 1476.7,784.8 1477.0,785.4 C1477.3,785.9 1477.7,786.5 1478.0,787.1 C1478.3,787.7 1478.6,788.3 1479.0,788.8 C1479.3,789.4 1479.6,790.0 1479.9,790.6 C1480.2,791.2 1480.6,791.8 1480.9,792.3 C1481.2,792.9 1481.5,793.5 1481.9,794.1 C1482.2,794.7 1482.5,795.3 1482.8,795.8 C1483.1,796.4 1483.5,797.0 1483.8,797.6 C1484.1,798.2 1484.4,798.8 1484.7,799.4 C1485.1,799.9 1485.4,800.5 1485.7,801.1 C1486.0,801.7 1486.3,802.3 1486.6,802.9 C1487.0,803.5 1487.3,804.0 1487.6,804.6 C1487.9,805.2 1488.2,805.8 1488.5,806.4 C1488.9,807.0 1489.2,807.6 1489.5,808.2 C1489.8,808.8 1490.1,809.3 1490.4,809.9 C1490.7,810.5 1491.0,811.1 1491.4,811.7 C1491.7,812.3 1492.0,812.9 1492.3,813.5 C1492.6,814.1 1492.9,814.6 1493.2,815.2 C1493.5,815.8 1493.9,816.4 1494.2,817.0 C1494.5,817.6 1494.8,818.2 1495.1,818.8 C1495.4,819.4 1495.7,820.0 1496.0,820.6 C1496.3,821.1 1496.6,821.7 1497.0,822.3 C1497.3,822.9 1497.6,823.5 1497.9,824.1 C1498.2,824.7 1498.5,825.3 1498.8,825.9 C1499.1,826.5 1499.4,827.1 1499.7,827.7 C1500.0,828.3 1500.3,828.8 1500.6,829.4 C1500.9,830.0 1501.3,830.6 1501.6,831.2 C1501.9,831.8 1502.2,832.4 1502.5,833.0 C1502.8,833.6 1503.1,834.2 1503.4,834.8 C1503.7,835.4 1504.0,836.0 1504.3,836.6 C1504.6,837.2 1504.9,837.8 1505.2,838.4 C1505.5,839.0 1505.8,839.5 1506.1,840.1 C1506.4,840.7 1506.7,841.3 1507.0,841.9 C1507.3,842.5 1507.6,843.1 1507.9,843.7 C1508.2,844.3 1508.5,844.9 1508.8,845.5 C1509.1,846.1 1509.4,846.7 1509.7,847.3 C1510.0,847.9 1510.3,848.5 1510.6,849.1 C1510.9,849.7 1511.2,850.3 1511.5,850.9 C1511.8,851.5 1512.1,852.1 1512.4,852.7 C1512.7,853.3 1513.0,853.9 1513.3,854.5 C1513.6,855.1 1513.9,855.7 1514.2,856.3 C1514.5,856.9 1514.8,857.5 1515.1,858.1 C1515.4,858.7 1515.7,859.3 1516.0,859.9 C1516.3,860.4 1516.6,861.0 1516.9,861.6 C1517.2,862.2 1517.5,862.8 1517.8,863.4 C1518.1,864.0 1518.4,864.6 1518.7,865.2 C1519.0,865.8 1519.3,866.4 1519.6,867.0 C1519.9,867.6 1520.2,868.2 1520.5,868.8 C1520.8,869.4 1521.1,870.0 1521.4,870.6 C1521.7,871.2 1521.9,871.8 1522.2,872.4 C1522.5,873.0 1522.8,873.6 1523.1,874.2 C1523.4,874.8 1523.7,875.4 1524.0,876.0 C1524.3,876.6 1524.6,877.2 1524.9,877.8 C1525.2,878.4 1525.5,879.0 1525.8,879.6 C1526.1,880.2 1526.4,880.8 1526.7,881.4 C1527.0,882.0 1527.3,882.6 1527.6,883.2 C1527.8,883.8 1528.1,884.4 1528.4,885.0 C1528.7,885.6 1529.0,886.2 1529.3,886.9 C1529.6,887.5 1529.9,888.1 1530.2,888.7 C1530.5,889.3 1530.8,889.9 1531.1,890.5 C1531.4,891.1 1531.7,891.7 1532.0,892.3 C1532.3,892.9 1532.5,893.5 1532.8,894.1 C1533.1,894.7 1533.4,895.3 1533.7,895.9 C1534.0,896.5 1534.3,897.1 1534.6,897.7 C1534.9,898.3 1535.2,898.9 1535.5,899.5 C1535.8,900.1 1536.1,900.7 1536.4,901.3 C1536.7,901.9 1536.9,902.5 1537.2,903.1 C1537.5,903.7 1537.8,904.3 1538.1,904.9 C1538.4,905.5 1538.7,906.1 1539.0,906.7 C1539.3,907.3 1539.6,907.9 1539.9,908.5 C1540.2,909.1 1540.5,909.7 1540.8,910.3 C1541.1,910.9 1541.3,911.5 1541.6,912.1 C1541.9,912.7 1542.2,913.3 1542.5,913.9 C1542.8,914.5 1543.1,915.1 1543.4,915.7 C1543.7,916.3 1544.0,916.9 1544.3,917.5 C1544.6,918.1 1544.9,918.7 1545.2,919.3 C1545.5,919.9 1545.7,920.5 1546.0,921.1 C1546.3,921.7 1546.6,922.3 1546.9,922.9 C1547.2,923.5 1547.5,924.1 1547.8,924.7 C1548.1,925.3 1548.4,925.9 1548.7,926.5 C1549.0,927.1 1549.3,927.7 1549.6,928.3 C1549.9,928.9 1550.2,929.5 1550.5,930.1 C1550.8,930.7 1551.0,931.3 1551.3,931.9 C1551.6,932.5 1551.9,933.1 1552.2,933.7 C1552.5,934.3 1552.8,934.9 1553.1,935.5 C1553.4,936.1 1553.7,936.7 1554.0,937.3 C1554.3,937.9 1554.6,938.5 1554.9,939.1 C1555.2,939.7 1555.5,940.3 1555.8,940.9 C1556.1,941.5 1556.4,942.1 1556.7,942.7 C1557.0,943.3 1557.3,943.9 1557.6,944.5 C1557.9,945.1 1558.2,945.7 1558.5,946.3 C1558.7,946.9 1559.0,947.5 1559.3,948.1 C1559.6,948.7 1559.9,949.3 1560.2,949.9 C1560.5,950.5 1560.8,951.1 1561.1,951.7 C1561.4,952.3 1561.7,952.9 1562.0,953.5 C1562.3,954.1 1562.6,954.7 1562.9,955.3 C1563.2,955.9 1563.5,956.5 1563.8,957.1 C1564.1,957.7 1564.4,958.3 1564.7,958.9 C1565.0,959.5 1565.3,960.1 1565.6,960.7 C1565.9,961.3 1566.2,961.9 1566.5,962.5 C1566.8,963.1 1567.1,963.7 1567.4,964.3 C1567.7,964.9 1568.0,965.5 1568.3,966.1 C1568.6,966.7 1568.9,967.3 1569.2,967.9 C1569.5,968.4 1569.8,969.0 1570.2,969.6 C1570.5,970.2 1570.8,970.8 1571.1,971.4 C1571.4,972.0 1571.7,972.6 1572.0,973.2 C1572.3,973.8 1572.6,974.4 1572.9,975.0 C1573.2,975.6 1573.5,976.2 1573.8,976.8 C1574.1,977.4 1574.4,978.0 1574.7,978.6 C1575.0,979.2 1575.3,979.7 1575.6,980.3 C1575.9,980.9 1576.3,981.5 1576.6,982.1 C1576.9,982.7 1577.2,983.3 1577.5,983.9 C1577.8,984.5 1578.1,985.1 1578.4,985.7 C1578.7,986.3 1579.0,986.9 1579.3,987.5 C1579.6,988.0 1580.0,988.6 1580.3,989.2 C1580.6,989.8 1580.9,990.4 1581.2,991.0 C1581.5,991.6 1581.8,992.2 1582.1,992.8 C1582.4,993.4 1582.8,994.0 1583.1,994.5 C1583.4,995.1 1583.7,995.7 1584.0,996.3 C1584.3,996.9 1584.6,997.5 1584.9,998.1 C1585.3,998.7 1585.6,999.3 1585.9,999.9 C1586.2,1000.4 1586.5,1001.0 1586.8,1001.6 C1587.1,1002.2 1587.5,1002.8 1587.8,1003.4 C1588.1,1004.0 1588.4,1004.6 1588.7,1005.1 C1589.0,1005.7 1589.4,1006.3 1589.7,1006.9 C1590.0,1007.5 1590.3,1008.1 1590.6,1008.7 C1591.0,1009.3 1591.3,1009.8 1591.6,1010.4 C1591.9,1011.0 1592.2,1011.6 1592.6,1012.2 C1592.9,1012.8 1593.2,1013.4 1593.5,1013.9 C1593.8,1014.5 1594.2,1015.1 1594.5,1015.7 C1594.8,1016.3 1595.1,1016.9 1595.4,1017.4 C1595.8,1018.0 1596.1,1018.6 1596.4,1019.2 C1596.7,1019.8 1597.1,1020.4 1597.4,1020.9 C1597.7,1021.5 1598.0,1022.1 1598.4,1022.7 C1598.7,1023.3 1599.0,1023.9 1599.3,1024.4 C1599.7,1025.0 1600.0,1025.6 1600.3,1026.2 C1600.7,1026.8 1601.0,1027.3 1601.3,1027.9 C1601.6,1028.5 1602.0,1029.1 1602.3,1029.7 C1602.6,1030.2 1603.0,1030.8 1603.3,1031.4 C1603.6,1032.0 1604.0,1032.6 1604.3,1033.1 C1604.6,1033.7 1605.0,1034.3 1605.3,1034.9 C1605.6,1035.4 1606.0,1036.0 1606.3,1036.6 C1606.6,1037.2 1607.0,1037.8 1607.3,1038.3 C1607.6,1038.9 1608.0,1039.5 1608.3,1040.1 C1608.6,1040.6 1609.0,1041.2 1609.3,1041.8 C1609.7,1042.4 1610.0,1042.9 1610.3,1043.5 C1610.7,1044.1 1611.0,1044.7 1611.4,1045.2 C1611.7,1045.8 1612.0,1046.4 1612.4,1046.9 C1612.7,1047.5 1613.1,1048.1 1613.4,1048.7 C1613.7,1049.2 1614.1,1049.8 1614.4,1050.4 C1614.8,1050.9 1615.1,1051.5 1615.5,1052.1 C1615.8,1052.7 1614.5,1050.7 1616.5,1053.8 C1618.5,1056.9 1624.5,1066.8 1627.2,1070.7 C1629.9,1074.6 1630.9,1075.5 1632.5,1077.0 C1634.1,1078.5 1633.8,1079.3 1637.0,1080.0 C1640.2,1080.7 1643.2,1080.9 1652.0,1080.9 C1660.8,1081.0 1668.7,1080.6 1690.0,1080.3 C1711.3,1080.0 1745.0,1079.5 1780.0,1079.3 C1815.0,1079.1 1865.5,1079.0 1900.0,1079.0 C1934.5,1079.0 1972.5,1079.1 1987.0,1079.1" fill="none" stroke="#111111" stroke-width="6.5" stroke-linecap="round" stroke-linejoin="round"/><path d="M330.5,237.0 C330.6,235.7 330.4,231.2 331.2,229.0 C331.9,226.8 332.7,225.2 335.0,224.0 C337.3,222.8 343.0,221.9 345.0,221.5 C347.0,221.1 346.3,221.4 347.0,221.4 C347.7,221.3 348.4,221.3 349.0,221.2 C349.7,221.2 350.4,221.2 351.1,221.1 C351.7,221.1 352.4,221.0 353.1,221.0 C353.8,221.0 354.4,220.9 355.1,220.9 C355.8,220.8 356.4,220.8 357.1,220.8 C357.8,220.7 358.5,220.7 359.1,220.7 C359.8,220.6 360.5,220.6 361.1,220.6 C361.8,220.5 362.5,220.5 363.2,220.5 C363.8,220.4 364.5,220.4 365.2,220.4 C365.8,220.3 366.5,220.3 367.2,220.3 C367.8,220.2 368.5,220.2 369.2,220.2 C369.9,220.2 370.5,220.1 371.2,220.1 C371.9,220.1 372.5,220.0 373.2,220.0 C373.9,220.0 374.5,220.0 375.2,219.9 C375.9,219.9 376.5,219.9 377.2,219.9 C377.9,219.8 378.5,219.8 379.2,219.8 C379.9,219.8 380.5,219.8 381.2,219.7 C381.9,219.7 382.6,219.7 383.2,219.7 C383.9,219.6 384.6,219.6 385.2,219.6 C385.9,219.6 386.6,219.6 387.2,219.5 C387.9,219.5 388.6,219.5 389.2,219.5 C389.9,219.5 390.6,219.4 391.2,219.4 C391.9,219.4 392.6,219.4 393.2,219.4 C393.9,219.4 394.5,219.3 395.2,219.3 C395.9,219.3 396.5,219.3 397.2,219.3 C397.9,219.3 398.5,219.3 399.2,219.2 C399.9,219.2 400.5,219.2 401.2,219.2 C401.9,219.2 402.5,219.2 403.2,219.2 C403.9,219.1 404.5,219.1 405.2,219.1 C405.9,219.1 406.5,219.1 407.2,219.1 C407.9,219.1 408.5,219.1 409.2,219.0 C409.8,219.0 410.5,219.0 411.2,219.0 C411.8,219.0 412.5,219.0 413.2,219.0 C413.8,219.0 414.5,219.0 415.2,218.9 C415.8,218.9 416.5,218.9 417.2,218.9 C417.8,218.9 418.5,218.9 419.1,218.9 C419.8,218.9 420.5,218.9 421.1,218.9 C421.8,218.8 422.5,218.8 423.1,218.8 C423.8,218.8 424.5,218.8 425.1,218.8 C425.8,218.8 426.4,218.8 427.1,218.8 C427.8,218.8 428.4,218.8 429.1,218.8 C429.8,218.8 430.4,218.7 431.1,218.7 C431.8,218.7 432.4,218.7 433.1,218.7 C433.7,218.7 434.4,218.7 435.1,218.7 C435.7,218.7 436.4,218.7 437.1,218.7 C437.7,218.7 438.4,218.7 439.0,218.7 C439.7,218.6 440.4,218.6 441.0,218.6 C441.7,218.6 442.4,218.6 443.0,218.6 C443.7,218.6 444.4,218.6 445.0,218.6 C445.7,218.6 446.3,218.6 447.0,218.6 C447.7,218.6 448.3,218.6 449.0,218.5 C449.7,218.5 450.3,218.5 451.0,218.5 C451.7,218.5 452.3,218.5 453.0,218.5 C453.6,218.5 454.3,218.5 455.0,218.5 C455.6,218.5 456.3,218.5 457.0,218.5 C457.6,218.5 458.3,218.4 459.0,218.4 C459.6,218.4 460.3,218.4 460.9,218.4 C461.6,218.4 462.3,218.4 462.9,218.4 C463.6,218.4 464.3,218.4 464.9,218.4 C465.6,218.4 466.3,218.3 466.9,218.3 C467.6,218.3 468.2,218.3 468.9,218.3 C469.6,218.3 470.2,218.3 470.9,218.3 C471.6,218.3 472.2,218.3 472.9,218.2 C473.6,218.2 474.2,218.2 474.9,218.2 C475.6,218.2 476.2,218.2 476.9,218.2 C477.6,218.2 478.2,218.2 478.9,218.1 C479.5,218.1 480.2,218.1 480.9,218.1 C481.5,218.1 482.2,218.1 482.9,218.1 C483.5,218.1 484.2,218.0 484.9,218.0 C485.5,218.0 486.2,218.0 486.9,218.0 C487.5,218.0 488.2,218.0 488.9,217.9 C489.5,217.9 490.2,217.9 490.9,217.9 C491.5,217.9 492.2,217.9 492.9,217.9 C493.5,217.8 494.2,217.8 494.9,217.8 C495.5,217.8 496.2,217.8 496.9,217.7 C497.5,217.7 498.2,217.7 498.9,217.7 C499.5,217.7 500.2,217.7 500.9,217.6 C501.5,217.6 502.2,217.6 502.9,217.6 C503.5,217.6 504.2,217.5 504.9,217.5 C505.5,217.5 506.2,217.5 506.9,217.4 C507.6,217.4 508.2,217.4 508.9,217.4 C509.6,217.3 510.2,217.3 510.9,217.3 C511.6,217.3 512.2,217.2 512.9,217.2 C513.6,217.2 514.3,217.2 514.9,217.1 C515.6,217.1 516.3,217.1 516.9,217.1 C517.6,217.0 518.3,217.0 518.9,217.0 C519.6,216.9 520.3,216.9 521.0,216.9 C521.6,216.8 522.3,216.8 523.0,216.8 C523.6,216.8 524.3,216.7 525.0,216.7 C525.7,216.7 526.3,216.6 527.0,216.6 C527.7,216.6 528.3,216.5 529.0,216.5 C529.7,216.5 530.4,216.4 531.0,216.4 C531.7,216.3 532.4,216.3 533.1,216.3 C533.7,216.2 534.4,216.2 535.1,216.2 C535.8,216.1 536.4,216.1 537.1,216.1 C537.8,216.0 538.4,216.0 539.1,215.9 C539.8,215.9 540.5,215.9 541.1,215.8 C541.8,215.8 542.5,215.8 543.2,215.7 C543.8,215.7 544.5,215.7 545.2,215.6 C545.9,215.6 546.5,215.5 547.2,215.5 C547.9,215.5 548.6,215.4 549.2,215.4 C549.9,215.4 550.6,215.3 551.3,215.3 C551.9,215.2 552.6,215.2 553.3,215.2 C554.0,215.1 554.6,215.1 555.3,215.1 C556.0,215.0 556.7,215.0 557.3,215.0 C558.0,214.9 558.7,214.9 559.4,214.9 C560.0,214.8 560.7,214.8 561.4,214.8 C562.1,214.7 562.7,214.7 563.4,214.7 C564.1,214.6 564.8,214.6 565.4,214.6 C566.1,214.5 566.8,214.5 567.5,214.5 C568.1,214.4 568.8,214.4 569.5,214.4 C570.1,214.3 570.8,214.3 571.5,214.3 C572.2,214.3 572.8,214.2 573.5,214.2 C574.2,214.2 574.9,214.2 575.5,214.1 C576.2,214.1 576.9,214.1 577.6,214.1 C578.2,214.0 578.9,214.0 579.6,214.0 C580.3,214.0 580.9,214.0 581.6,213.9 C582.3,213.9 583.0,213.9 583.6,213.9 C584.3,213.9 585.0,213.8 585.6,213.8 C586.3,213.8 587.0,213.8 587.7,213.8 C588.3,213.8 589.0,213.8 589.7,213.8 C590.4,213.7 591.0,213.7 591.7,213.7 C592.4,213.7 593.0,213.7 593.7,213.7 C594.4,213.7 595.1,213.7 595.7,213.7 C596.4,213.7 597.1,213.7 597.7,213.7 C598.4,213.7 599.1,213.7 599.7,213.7 C600.4,213.7 601.1,213.7 601.8,213.7 C602.4,213.7 603.1,213.7 603.8,213.7 C604.4,213.7 605.1,213.7 605.8,213.7 C606.4,213.7 607.1,213.8 607.8,213.8 C608.4,213.8 609.1,213.8 609.8,213.8 C610.5,213.8 611.1,213.8 611.8,213.9 C612.5,213.9 613.1,213.9 613.8,213.9 C614.5,214.0 615.1,214.0 615.8,214.0 C616.5,214.0 617.1,214.1 617.8,214.1 C618.4,214.1 619.1,214.2 619.8,214.2 C620.4,214.2 621.1,214.3 621.8,214.3 C622.4,214.3 623.1,214.4 623.8,214.4 C624.4,214.5 625.1,214.5 625.8,214.6 C626.4,214.6 627.1,214.7 627.7,214.7 C628.4,214.8 629.1,214.8 629.7,214.9 C630.4,214.9 631.0,215.0 631.7,215.0 C632.4,215.1 633.0,215.2 633.7,215.2 C634.4,215.3 635.0,215.4 635.7,215.4 C636.3,215.5 637.0,215.6 637.6,215.6 C638.3,215.7 639.0,215.8 639.6,215.9 C640.3,215.9 640.9,216.0 641.6,216.1 C642.2,216.2 642.9,216.3 643.6,216.4 C644.2,216.5 644.9,216.5 645.5,216.6 C646.2,216.7 646.8,216.8 647.5,216.9 C648.1,217.0 648.8,217.1 649.4,217.2 C650.1,217.3 650.8,217.4 651.4,217.5 C652.1,217.7 652.7,217.8 653.4,217.9 C654.0,218.0 654.7,218.1 655.3,218.2 C656.0,218.4 656.6,218.5 657.3,218.6 C657.9,218.7 658.6,218.9 659.2,219.0 C659.9,219.1 660.5,219.3 661.1,219.4 C661.8,219.5 662.4,219.7 663.1,219.8 C663.7,219.9 664.4,220.1 665.0,220.2 C665.7,220.4 666.3,220.5 667.0,220.7 C667.6,220.8 668.2,221.0 668.9,221.1 C669.5,221.3 670.2,221.5 670.8,221.6 C671.5,221.8 672.1,221.9 672.7,222.1 C673.4,222.3 674.0,222.4 674.7,222.6 C675.3,222.8 675.9,223.0 676.6,223.1 C677.2,223.3 677.9,223.5 678.5,223.7 C679.1,223.9 679.8,224.0 680.4,224.2 C681.0,224.4 681.7,224.6 682.3,224.8 C682.9,225.0 683.6,225.2 684.2,225.4 C684.8,225.6 685.5,225.8 686.1,226.0 C686.7,226.2 687.4,226.4 688.0,226.6 C688.6,226.8 689.3,227.0 689.9,227.2 C690.5,227.4 691.2,227.6 691.8,227.8 C692.4,228.0 693.1,228.2 693.7,228.5 C694.3,228.7 694.9,228.9 695.6,229.1 C696.2,229.3 696.8,229.6 697.4,229.8 C698.1,230.0 698.7,230.2 699.3,230.5 C699.9,230.7 700.6,230.9 701.2,231.2 C701.8,231.4 702.4,231.6 703.1,231.9 C703.7,232.1 704.3,232.4 704.9,232.6 C705.5,232.8 706.2,233.1 706.8,233.3 C707.4,233.6 708.0,233.8 708.6,234.1 C709.3,234.3 709.9,234.6 710.5,234.8 C711.1,235.1 711.7,235.3 712.4,235.6 C713.0,235.8 713.6,236.1 714.2,236.4 C714.8,236.6 715.4,236.9 716.0,237.2 C716.7,237.4 717.3,237.7 717.9,238.0 C718.5,238.2 719.1,238.5 719.7,238.8 C720.3,239.0 720.9,239.3 721.5,239.6 C722.2,239.9 722.8,240.1 723.4,240.4 C724.0,240.7 724.6,241.0 725.2,241.3 C725.8,241.5 726.4,241.8 727.0,242.1 C727.6,242.4 728.2,242.7 728.8,243.0 C729.4,243.3 730.0,243.5 730.6,243.8 C731.3,244.1 731.9,244.4 732.5,244.7 C733.1,245.0 733.7,245.3 734.3,245.6 C734.9,245.9 735.5,246.2 736.1,246.5 C736.7,246.8 737.3,247.1 737.9,247.4 C738.5,247.7 739.1,248.0 739.6,248.3 C740.2,248.6 740.8,248.9 741.4,249.3 C742.0,249.6 742.6,249.9 743.2,250.2 C743.8,250.5 744.4,250.8 745.0,251.1 C745.6,251.4 746.2,251.8 746.8,252.1 C747.4,252.4 748.0,252.7 748.5,253.0 C749.1,253.4 749.7,253.7 750.3,254.0 C750.9,254.3 751.5,254.6 752.1,255.0 C752.7,255.3 753.2,255.6 753.8,255.9 C754.4,256.3 755.0,256.6 755.6,256.9 C756.2,257.3 756.8,257.6 757.3,257.9 C757.9,258.3 758.5,258.6 759.1,258.9 C759.7,259.3 760.2,259.6 760.8,259.9 C761.4,260.3 762.0,260.6 762.6,261.0 C763.1,261.3 763.7,261.6 764.3,262.0 C764.9,262.3 765.4,262.7 766.0,263.0 C766.6,263.3 767.2,263.7 767.8,264.0 C768.3,264.4 768.9,264.7 769.5,265.1 C770.0,265.4 770.6,265.8 771.2,266.1 C771.8,266.5 772.3,266.8 772.9,267.2 C773.5,267.5 774.1,267.9 774.6,268.2 C775.2,268.6 775.8,268.9 776.3,269.3 C776.9,269.6 777.5,270.0 778.0,270.3 C778.6,270.7 779.2,271.0 779.7,271.4 C780.3,271.8 780.9,272.1 781.4,272.5 C782.0,272.8 782.6,273.2 783.1,273.5 C783.7,273.9 784.3,274.3 784.8,274.6 C785.4,275.0 786.0,275.3 786.5,275.7 C787.1,276.1 787.6,276.4 788.2,276.8 C788.8,277.2 789.3,277.5 789.9,277.9 C790.5,278.3 791.0,278.6 791.6,279.0 C792.1,279.3 792.7,279.7 793.3,280.1 C793.8,280.4 794.4,280.8 794.9,281.2 C795.5,281.5 796.0,281.9 796.6,282.3 C797.2,282.6 797.7,283.0 798.3,283.4 C798.8,283.7 799.4,284.1 799.9,284.5 C800.5,284.9 801.1,285.2 801.6,285.6 C802.2,286.0 802.7,286.3 803.3,286.7 C803.8,287.1 804.4,287.5 804.9,287.8 C805.5,288.2 806.0,288.6 806.6,289.0 C807.1,289.3 807.7,289.7 808.2,290.1 C808.8,290.5 809.3,290.9 809.8,291.2 C810.4,291.6 810.9,292.0 811.5,292.4 C812.0,292.8 812.5,293.2 813.1,293.6 C813.6,294.0 814.1,294.4 814.6,294.8 C815.2,295.2 815.7,295.6 816.2,296.0 C816.7,296.4 817.2,296.8 817.7,297.2 C818.3,297.6 818.8,298.1 819.3,298.5 C819.8,298.9 820.3,299.3 820.8,299.8 C821.3,300.2 821.8,300.6 822.3,301.1 C822.7,301.5 823.2,301.9 823.7,302.4 C824.2,302.8 824.7,303.3 825.2,303.7 C825.6,304.1 826.1,304.6 826.6,305.1 C827.1,305.5 827.5,306.0 828.0,306.4 C828.5,306.9 828.9,307.3 829.4,307.8 C829.9,308.3 830.3,308.7 830.8,309.2 C831.2,309.7 831.7,310.2 832.1,310.6 C832.6,311.1 833.0,311.6 833.5,312.1 C833.9,312.5 834.4,313.0 834.8,313.5 C835.3,314.0 835.7,314.5 836.1,315.0 C836.6,315.5 837.0,316.0 837.4,316.4 C837.9,316.9 838.3,317.4 838.7,317.9 C839.2,318.4 839.6,318.9 840.0,319.4 C840.4,319.9 840.8,320.4 841.3,320.9 C841.7,321.4 842.1,322.0 842.5,322.5 C842.9,323.0 843.3,323.5 843.8,324.0 C844.2,324.5 844.6,325.0 845.0,325.5 C845.4,326.0 845.8,326.6 846.2,327.1 C846.6,327.6 847.0,328.1 847.4,328.6 C847.8,329.2 848.2,329.7 848.6,330.2 C849.0,330.7 849.4,331.2 849.8,331.8 C850.2,332.3 850.6,332.8 851.0,333.3 C851.4,333.9 851.8,334.4 852.2,334.9 C852.6,335.4 853.0,336.0 853.4,336.5 C853.8,337.0 854.2,337.6 854.6,338.1 C855.0,338.6 855.4,339.1 855.8,339.7 C856.2,340.2 856.6,340.7 857.0,341.3 C857.4,341.8 857.8,342.3 858.2,342.8 C858.6,343.4 859.0,343.9 859.4,344.4 C859.8,344.9 860.2,345.5 860.6,346.0 C861.0,346.5 861.4,347.1 861.8,347.6 C862.2,348.1 862.6,348.6 863.0,349.2 C863.5,349.7 863.9,350.2 864.3,350.7 C864.7,351.3 865.1,351.8 865.5,352.3 C866.0,352.8 866.4,353.4 866.8,353.9 C867.2,354.4 867.6,354.9 868.1,355.4 C868.5,356.0 868.9,356.5 869.3,357.0 C869.8,357.5 870.2,358.0 870.6,358.5 C871.0,359.1 871.5,359.6 871.9,360.1 C872.3,360.6 872.8,361.1 873.2,361.6 C873.6,362.2 874.1,362.7 874.5,363.2 C875.0,363.7 875.4,364.2 875.8,364.7 C876.3,365.2 876.7,365.7 877.2,366.2 C877.6,366.7 878.0,367.2 878.5,367.8 C878.9,368.3 879.4,368.8 879.8,369.3 C880.3,369.8 880.7,370.3 881.2,370.8 C881.6,371.3 882.1,371.8 882.6,372.3 C883.0,372.8 883.5,373.3 883.9,373.8 C884.4,374.3 884.8,374.8 885.3,375.2 C885.8,375.7 886.2,376.2 886.7,376.7 C887.2,377.2 887.6,377.7 888.1,378.2 C888.6,378.7 889.0,379.2 889.5,379.7 C890.0,380.1 890.4,380.6 890.9,381.1 C891.4,381.6 891.9,382.1 892.3,382.5 C892.8,383.0 893.3,383.5 893.8,384.0 C894.3,384.5 894.7,384.9 895.2,385.4 C895.7,385.9 896.2,386.3 896.7,386.8 C897.2,387.3 897.7,387.7 898.1,388.2 C898.6,388.7 899.1,389.1 899.6,389.6 C900.1,390.1 900.6,390.5 901.1,391.0 C901.6,391.4 902.1,391.9 902.6,392.4 C903.1,392.8 903.6,393.3 904.1,393.7 C904.6,394.2 905.1,394.6 905.6,395.1 C906.1,395.5 906.6,396.0 907.1,396.4 C907.6,396.8 908.1,397.3 908.6,397.7 C909.2,398.2 909.7,398.6 910.2,399.0 C910.7,399.5 911.2,399.9 911.7,400.3 C912.2,400.8 912.8,401.2 913.3,401.6 C913.8,402.0 914.3,402.5 914.8,402.9 C915.4,403.3 915.9,403.7 916.4,404.1 C916.9,404.6 917.5,405.0 918.0,405.4 C918.5,405.8 919.1,406.2 919.6,406.6 C920.1,407.0 920.7,407.4 921.2,407.8 C921.7,408.2 922.3,408.6 922.8,409.0 C923.3,409.4 923.9,409.8 924.4,410.2 C925.0,410.6 925.5,411.0 926.1,411.4 C926.6,411.8 927.2,412.2 927.7,412.5 C928.3,412.9 928.8,413.3 929.4,413.7 C929.9,414.1 930.5,414.4 931.0,414.8 C931.6,415.2 932.1,415.5 932.7,415.9 C933.2,416.3 933.8,416.6 934.4,417.0 C934.9,417.4 935.5,417.7 936.0,418.1 C936.6,418.4 937.2,418.8 937.7,419.1 C938.3,419.5 938.9,419.8 939.5,420.2 C940.0,420.5 940.6,420.9 941.2,421.2 C941.7,421.5 942.3,421.9 942.9,422.2 C943.5,422.5 944.0,422.9 944.6,423.2 C945.2,423.5 945.8,423.8 946.4,424.2 C947.0,424.5 947.5,424.8 948.1,425.1 C948.7,425.4 949.3,425.8 949.9,426.1 C950.5,426.4 951.1,426.7 951.7,427.0 C952.2,427.3 952.8,427.6 953.4,427.9 C954.0,428.2 954.6,428.5 955.2,428.8 C955.8,429.1 956.4,429.4 957.0,429.7 C957.6,430.0 958.2,430.3 958.8,430.6 C959.4,430.9 960.0,431.2 960.6,431.5 C961.2,431.7 961.8,432.0 962.4,432.3 C963.0,432.6 963.6,432.9 964.2,433.2 C964.8,433.4 965.4,433.7 966.0,434.0 C966.6,434.3 967.2,434.5 967.8,434.8 C968.5,435.1 969.1,435.4 969.7,435.6 C970.3,435.9 970.9,436.2 971.5,436.5 C972.1,436.7 972.7,437.0 973.3,437.3 C973.9,437.5 974.6,437.8 975.2,438.1 C975.8,438.3 976.4,438.6 977.0,438.9 C977.6,439.1 978.2,439.4 978.9,439.6 C979.5,439.9 980.1,440.2 980.7,440.4 C981.3,440.7 981.9,440.9 982.5,441.2 C983.2,441.5 983.8,441.7 984.4,442.0 C985.0,442.2 985.6,442.5 986.2,442.7 C986.9,443.0 987.5,443.3 988.1,443.5 C988.7,443.8 989.3,444.0 989.9,444.3 C990.6,444.5 991.2,444.8 991.8,445.0 C992.4,445.3 993.0,445.5 993.7,445.8 C994.3,446.1 994.9,446.3 995.5,446.6 C996.1,446.8 996.7,447.1 997.4,447.3 C998.0,447.6 998.6,447.8 999.2,448.1 C999.8,448.3 1000.5,448.6 1001.1,448.9 C1001.7,449.1 1002.3,449.4 1002.9,449.6 C1003.5,449.9 1004.1,450.1 1004.8,450.4 C1005.4,450.6 1006.0,450.9 1006.6,451.2 C1007.2,451.4 1007.8,451.7 1008.5,451.9 C1009.1,452.2 1009.7,452.5 1010.3,452.7 C1010.9,453.0 1011.5,453.2 1012.1,453.5 C1012.7,453.8 1013.4,454.0 1014.0,454.3 C1014.6,454.5 1015.2,454.8 1015.8,455.1 C1016.4,455.3 1017.0,455.6 1017.6,455.9 C1018.2,456.1 1018.8,456.4 1019.5,456.7 C1020.1,457.0 1020.7,457.2 1021.3,457.5 C1021.9,457.8 1022.5,458.0 1023.1,458.3 C1023.7,458.6 1024.3,458.9 1024.9,459.2 C1025.5,459.4 1026.1,459.7 1026.7,460.0 C1027.3,460.3 1027.9,460.6 1028.5,460.8 C1029.1,461.1 1029.7,461.4 1030.3,461.7 C1030.9,462.0 1031.5,462.3 1032.1,462.6 C1032.7,462.9 1033.3,463.2 1033.9,463.5 C1034.4,463.8 1035.0,464.1 1035.6,464.4 C1036.2,464.7 1036.8,465.0 1037.4,465.3 C1038.0,465.6 1038.6,465.9 1039.1,466.2 C1039.7,466.5 1040.3,466.8 1040.9,467.1 C1041.5,467.4 1042.1,467.7 1042.6,468.0 C1043.2,468.4 1043.8,468.7 1044.4,469.0 C1045.0,469.3 1045.5,469.6 1046.1,469.9 C1046.7,470.3 1047.3,470.6 1047.8,470.9 C1048.4,471.2 1049.0,471.6 1049.6,471.9 C1050.1,472.2 1050.7,472.5 1051.3,472.9 C1051.9,473.2 1052.4,473.5 1053.0,473.9 C1053.6,474.2 1054.1,474.5 1054.7,474.9 C1055.3,475.2 1055.8,475.6 1056.4,475.9 C1057.0,476.2 1057.5,476.6 1058.1,476.9 C1058.7,477.3 1059.2,477.6 1059.8,478.0 C1060.3,478.3 1060.9,478.7 1061.5,479.0 C1062.0,479.4 1062.6,479.7 1063.1,480.1 C1063.7,480.4 1064.3,480.8 1064.8,481.1 C1065.4,481.5 1065.9,481.8 1066.5,482.2 C1067.0,482.6 1067.6,482.9 1068.1,483.3 C1068.7,483.7 1069.2,484.0 1069.8,484.4 C1070.3,484.8 1070.9,485.1 1071.4,485.5 C1072.0,485.9 1072.5,486.2 1073.1,486.6 C1073.6,487.0 1074.2,487.3 1074.7,487.7 C1075.3,488.1 1075.8,488.5 1076.4,488.8 C1076.9,489.2 1077.5,489.6 1078.0,490.0 C1078.5,490.4 1079.1,490.7 1079.6,491.1 C1080.2,491.5 1080.7,491.9 1081.3,492.3 C1081.8,492.7 1082.3,493.1 1082.9,493.4 C1083.4,493.8 1083.9,494.2 1084.5,494.6 C1085.0,495.0 1085.6,495.4 1086.1,495.8 C1086.6,496.2 1087.2,496.6 1087.7,497.0 C1088.2,497.4 1088.8,497.8 1089.3,498.2 C1089.8,498.6 1090.4,499.0 1090.9,499.4 C1091.4,499.8 1092.0,500.2 1092.5,500.6 C1093.0,501.0 1093.6,501.4 1094.1,501.8 C1094.6,502.2 1095.1,502.6 1095.7,503.0 C1096.2,503.4 1096.7,503.9 1097.2,504.3 C1097.8,504.7 1098.3,505.1 1098.8,505.5 C1099.4,505.9 1099.9,506.3 1100.4,506.8 C1100.9,507.2 1101.5,507.6 1102.0,508.0 C1102.5,508.4 1103.0,508.8 1103.5,509.3 C1104.1,509.7 1104.6,510.1 1105.1,510.5 C1105.6,510.9 1106.2,511.4 1106.7,511.8 C1107.2,512.2 1107.7,512.6 1108.2,513.1 C1108.8,513.5 1109.3,513.9 1109.8,514.3 C1110.3,514.7 1110.8,515.2 1111.4,515.6 C1111.9,516.0 1112.4,516.4 1112.9,516.9 C1113.4,517.3 1114.0,517.7 1114.5,518.2 C1115.0,518.6 1115.5,519.0 1116.0,519.4 C1116.6,519.9 1117.1,520.3 1117.6,520.7 C1118.1,521.1 1118.6,521.6 1119.2,522.0 C1119.7,522.4 1120.2,522.8 1120.7,523.3 C1121.2,523.7 1121.8,524.1 1122.3,524.5 C1122.8,525.0 1123.3,525.4 1123.8,525.8 C1124.4,526.3 1124.9,526.7 1125.4,527.1 C1125.9,527.5 1126.4,528.0 1127.0,528.4 C1127.5,528.8 1128.0,529.2 1128.5,529.6 C1129.1,530.1 1129.6,530.5 1130.1,530.9 C1130.6,531.3 1131.1,531.8 1131.7,532.2 C1132.2,532.6 1132.7,533.0 1133.2,533.4 C1133.8,533.9 1134.3,534.3 1134.8,534.7 C1135.3,535.1 1135.9,535.5 1136.4,536.0 C1136.9,536.4 1137.4,536.8 1138.0,537.2 C1138.5,537.6 1139.0,538.0 1139.6,538.4 C1140.1,538.9 1140.6,539.3 1141.1,539.7 C1141.7,540.1 1142.2,540.5 1142.7,540.9 C1143.3,541.3 1143.8,541.7 1144.3,542.1 C1144.9,542.5 1145.4,542.9 1145.9,543.3 C1146.5,543.7 1147.0,544.1 1147.5,544.5 C1148.1,544.9 1148.6,545.3 1149.1,545.7 C1149.7,546.1 1150.2,546.5 1150.7,546.9 C1151.3,547.3 1151.8,547.7 1152.4,548.1 C1152.9,548.5 1153.5,548.9 1154.0,549.3 C1154.5,549.7 1155.1,550.0 1155.6,550.4 C1156.2,550.8 1156.7,551.2 1157.3,551.6 C1157.8,552.0 1158.4,552.3 1158.9,552.7 C1159.5,553.1 1160.0,553.5 1160.6,553.8 C1161.1,554.2 1161.7,554.6 1162.2,554.9 C1162.8,555.3 1163.3,555.7 1163.9,556.0 C1164.4,556.4 1165.0,556.8 1165.5,557.1 C1166.1,557.5 1166.7,557.8 1167.2,558.2 C1167.8,558.5 1168.3,558.9 1168.9,559.2 C1169.5,559.6 1170.0,559.9 1170.6,560.3 C1171.2,560.6 1171.7,561.0 1172.3,561.3 C1172.9,561.7 1173.4,562.0 1174.0,562.3 C1174.6,562.7 1175.2,563.0 1175.7,563.3 C1176.3,563.6 1176.9,564.0 1177.5,564.3 C1178.0,564.6 1178.6,564.9 1179.2,565.3 C1179.8,565.6 1180.4,565.9 1181.0,566.2 C1181.5,566.5 1182.1,566.8 1182.7,567.1 C1183.3,567.4 1183.9,567.7 1184.5,568.0 C1185.1,568.3 1185.7,568.6 1186.3,568.9 C1186.9,569.2 1187.5,569.5 1188.1,569.8 C1188.7,570.1 1189.2,570.4 1189.8,570.7 C1190.4,570.9 1191.0,571.2 1191.7,571.5 C1192.3,571.8 1192.9,572.1 1193.5,572.3 C1194.1,572.6 1194.7,572.9 1195.3,573.2 C1195.9,573.4 1196.5,573.7 1197.1,574.0 C1197.7,574.2 1198.3,574.5 1198.9,574.8 C1199.5,575.0 1200.2,575.3 1200.8,575.6 C1201.4,575.8 1202.0,576.1 1202.6,576.3 C1203.2,576.6 1203.8,576.9 1204.4,577.1 C1205.1,577.4 1205.7,577.6 1206.3,577.9 C1206.9,578.2 1207.5,578.4 1208.1,578.7 C1208.8,578.9 1209.4,579.2 1210.0,579.4 C1210.6,579.7 1211.2,579.9 1211.8,580.2 C1212.5,580.4 1213.1,580.7 1213.7,580.9 C1214.3,581.2 1214.9,581.5 1215.6,581.7 C1216.2,582.0 1216.8,582.2 1217.4,582.5 C1218.0,582.7 1218.7,583.0 1219.3,583.2 C1219.9,583.5 1220.5,583.7 1221.1,584.0 C1221.8,584.2 1222.4,584.5 1223.0,584.7 C1223.6,585.0 1224.2,585.2 1224.9,585.5 C1225.5,585.8 1226.1,586.0 1226.7,586.3 C1227.3,586.5 1227.9,586.8 1228.6,587.0 C1229.2,587.3 1229.8,587.6 1230.4,587.8 C1231.0,588.1 1231.6,588.3 1232.3,588.6 C1232.9,588.9 1233.5,589.1 1234.1,589.4 C1234.7,589.7 1235.3,589.9 1235.9,590.2 C1236.6,590.5 1237.2,590.7 1237.8,591.0 C1238.4,591.3 1239.0,591.6 1239.6,591.8 C1240.2,592.1 1240.8,592.4 1241.4,592.7 C1242.0,593.0 1242.7,593.3 1243.3,593.5 C1243.9,593.8 1244.5,594.1 1245.1,594.4 C1245.7,594.7 1246.3,595.0 1246.9,595.3 C1247.5,595.6 1248.1,595.9 1248.7,596.2 C1249.3,596.5 1249.9,596.8 1250.5,597.1 C1251.1,597.4 1251.7,597.7 1252.3,598.0 C1252.9,598.3 1253.5,598.6 1254.0,598.9 C1254.6,599.2 1255.2,599.5 1255.8,599.8 C1256.4,600.2 1257.0,600.5 1257.6,600.8 C1258.2,601.1 1258.8,601.4 1259.4,601.8 C1259.9,602.1 1260.5,602.4 1261.1,602.7 C1261.7,603.1 1262.3,603.4 1262.9,603.7 C1263.4,604.0 1264.0,604.4 1264.6,604.7 C1265.2,605.0 1265.8,605.4 1266.3,605.7 C1266.9,606.1 1267.5,606.4 1268.1,606.7 C1268.7,607.1 1269.2,607.4 1269.8,607.8 C1270.4,608.1 1270.9,608.5 1271.5,608.8 C1272.1,609.2 1272.7,609.5 1273.2,609.9 C1273.8,610.2 1274.4,610.6 1274.9,610.9 C1275.5,611.3 1276.1,611.6 1276.6,612.0 C1277.2,612.4 1277.8,612.7 1278.3,613.1 C1278.9,613.5 1279.4,613.8 1280.0,614.2 C1280.6,614.6 1281.1,614.9 1281.7,615.3 C1282.2,615.7 1282.8,616.0 1283.3,616.4 C1283.9,616.8 1284.4,617.2 1285.0,617.5 C1285.6,617.9 1286.1,618.3 1286.7,618.7 C1287.2,619.1 1287.7,619.5 1288.3,619.8 C1288.8,620.2 1289.4,620.6 1289.9,621.0 C1290.5,621.4 1291.0,621.8 1291.6,622.2 C1292.1,622.6 1292.6,623.0 1293.2,623.4 C1293.7,623.8 1294.3,624.2 1294.8,624.6 C1295.3,625.0 1295.9,625.4 1296.4,625.8 C1296.9,626.2 1297.5,626.6 1298.0,627.0 C1298.5,627.4 1299.1,627.8 1299.6,628.2 C1300.1,628.6 1300.7,629.0 1301.2,629.4 C1301.7,629.8 1302.2,630.3 1302.8,630.7 C1303.3,631.1 1303.8,631.5 1304.3,631.9 C1304.8,632.3 1305.4,632.8 1305.9,633.2 C1306.4,633.6 1306.9,634.0 1307.4,634.5 C1307.9,634.9 1308.5,635.3 1309.0,635.7 C1309.5,636.2 1310.0,636.6 1310.5,637.0 C1311.0,637.5 1311.5,637.9 1312.0,638.3 C1312.5,638.8 1313.0,639.2 1313.5,639.6 C1314.0,640.1 1314.6,640.5 1315.1,641.0 C1315.6,641.4 1316.1,641.8 1316.6,642.3 C1317.0,642.7 1317.5,643.2 1318.0,643.6 C1318.5,644.1 1319.0,644.5 1319.5,645.0 C1320.0,645.4 1320.5,645.9 1321.0,646.3 C1321.5,646.8 1322.0,647.2 1322.5,647.7 C1323.0,648.1 1323.4,648.6 1323.9,649.1 C1324.4,649.5 1324.9,650.0 1325.4,650.4 C1325.9,650.9 1326.3,651.4 1326.8,651.8 C1327.3,652.3 1327.8,652.7 1328.2,653.2 C1328.7,653.7 1329.2,654.1 1329.7,654.6 C1330.1,655.1 1330.6,655.6 1331.1,656.0 C1331.6,656.5 1332.0,657.0 1332.5,657.4 C1333.0,657.9 1333.4,658.4 1333.9,658.9 C1334.4,659.4 1334.8,659.8 1335.3,660.3 C1335.7,660.8 1336.2,661.3 1336.7,661.8 C1337.1,662.2 1337.6,662.7 1338.0,663.2 C1338.5,663.7 1339.0,664.2 1339.4,664.7 C1339.9,665.1 1340.3,665.6 1340.8,666.1 C1341.2,666.6 1341.7,667.1 1342.1,667.6 C1342.6,668.1 1343.0,668.6 1343.5,669.1 C1343.9,669.6 1344.4,670.1 1344.8,670.6 C1345.3,671.1 1345.7,671.6 1346.2,672.1 C1346.6,672.5 1347.0,673.0 1347.5,673.5 C1347.9,674.0 1348.4,674.6 1348.8,675.1 C1349.2,675.6 1349.7,676.1 1350.1,676.6 C1350.6,677.1 1351.0,677.6 1351.4,678.1 C1351.9,678.6 1352.3,679.1 1352.7,679.6 C1353.2,680.1 1353.6,680.6 1354.0,681.1 C1354.4,681.6 1354.9,682.2 1355.3,682.7 C1355.7,683.2 1356.2,683.7 1356.6,684.2 C1357.0,684.7 1357.4,685.2 1357.9,685.8 C1358.3,686.3 1358.7,686.8 1359.1,687.3 C1359.5,687.8 1360.0,688.3 1360.4,688.9 C1360.8,689.4 1361.2,689.9 1361.6,690.4 C1362.1,690.9 1362.5,691.5 1362.9,692.0 C1363.3,692.5 1363.7,693.0 1364.1,693.6 C1364.5,694.1 1364.9,694.6 1365.4,695.1 C1365.8,695.7 1366.2,696.2 1366.6,696.7 C1367.0,697.2 1367.4,697.8 1367.8,698.3 C1368.2,698.8 1368.6,699.4 1369.0,699.9 C1369.4,700.4 1369.8,701.0 1370.2,701.5 C1370.6,702.0 1371.0,702.6 1371.4,703.1 C1371.8,703.6 1372.2,704.2 1372.6,704.7 C1373.0,705.2 1373.4,705.8 1373.8,706.3 C1374.2,706.8 1374.6,707.4 1375.0,707.9 C1375.4,708.5 1375.8,709.0 1376.2,709.5 C1376.6,710.1 1377.0,710.6 1377.4,711.2 C1377.8,711.7 1378.2,712.2 1378.6,712.8 C1379.0,713.3 1379.3,713.9 1379.7,714.4 C1380.1,714.9 1380.5,715.5 1380.9,716.0 C1381.3,716.6 1381.7,717.1 1382.1,717.7 C1382.4,718.2 1382.8,718.8 1383.2,719.3 C1383.6,719.9 1384.0,720.4 1384.4,720.9 C1384.7,721.5 1385.1,722.0 1385.5,722.6 C1385.9,723.1 1386.3,723.7 1386.6,724.2 C1387.0,724.8 1387.4,725.3 1387.8,725.9 C1388.2,726.4 1388.5,727.0 1388.9,727.5 C1389.3,728.1 1389.7,728.6 1390.0,729.2 C1390.4,729.7 1390.8,730.3 1391.2,730.8 C1391.5,731.4 1391.9,732.0 1392.3,732.5 C1392.6,733.1 1393.0,733.6 1393.4,734.2 C1393.7,734.7 1394.1,735.3 1394.5,735.8 C1394.9,736.4 1395.2,736.9 1395.6,737.5 C1396.0,738.1 1396.3,738.6 1396.7,739.2 C1397.0,739.7 1397.4,740.3 1397.8,740.8 C1398.1,741.4 1398.5,742.0 1398.9,742.5 C1399.2,743.1 1399.6,743.6 1399.9,744.2 C1400.3,744.8 1400.7,745.3 1401.0,745.9 C1401.4,746.4 1401.7,747.0 1402.1,747.6 C1402.5,748.1 1402.8,748.7 1403.2,749.3 C1403.5,749.8 1403.9,750.4 1404.2,750.9 C1404.6,751.5 1405.0,752.1 1405.3,752.6 C1405.7,753.2 1406.0,753.8 1406.4,754.3 C1406.7,754.9 1407.1,755.5 1407.4,756.0 C1407.8,756.6 1408.1,757.2 1408.5,757.7 C1408.8,758.3 1409.2,758.9 1409.5,759.4 C1409.9,760.0 1410.2,760.6 1410.6,761.1 C1410.9,761.7 1411.3,762.3 1411.6,762.8 C1411.9,763.4 1412.3,764.0 1412.6,764.5 C1413.0,765.1 1413.3,765.7 1413.7,766.3 C1414.0,766.8 1414.3,767.4 1414.7,768.0 C1415.0,768.5 1415.4,769.1 1415.7,769.7 C1416.1,770.3 1416.4,770.8 1416.7,771.4 C1417.1,772.0 1417.4,772.5 1417.7,773.1 C1418.1,773.7 1418.4,774.3 1418.8,774.8 C1419.1,775.4 1419.4,776.0 1419.8,776.6 C1420.1,777.1 1420.4,777.7 1420.8,778.3 C1421.1,778.9 1421.4,779.4 1421.8,780.0 C1422.1,780.6 1422.4,781.2 1422.8,781.8 C1423.1,782.3 1423.4,782.9 1423.8,783.5 C1424.1,784.1 1424.4,784.6 1424.7,785.2 C1425.1,785.8 1425.4,786.4 1425.7,787.0 C1426.1,787.5 1426.4,788.1 1426.7,788.7 C1427.0,789.3 1427.4,789.9 1427.7,790.4 C1428.0,791.0 1428.3,791.6 1428.7,792.2 C1429.0,792.8 1429.3,793.3 1429.6,793.9 C1430.0,794.5 1430.3,795.1 1430.6,795.7 C1430.9,796.3 1431.2,796.8 1431.6,797.4 C1431.9,798.0 1432.2,798.6 1432.5,799.2 C1432.9,799.8 1433.2,800.3 1433.5,800.9 C1433.8,801.5 1434.1,802.1 1434.4,802.7 C1434.8,803.3 1435.1,803.9 1435.4,804.4 C1435.7,805.0 1436.0,805.6 1436.3,806.2 C1436.7,806.8 1437.0,807.4 1437.3,808.0 C1437.6,808.5 1437.9,809.1 1438.2,809.7 C1438.5,810.3 1438.9,810.9 1439.2,811.5 C1439.5,812.1 1439.8,812.7 1440.1,813.3 C1440.4,813.8 1440.7,814.4 1441.0,815.0 C1441.3,815.6 1441.7,816.2 1442.0,816.8 C1442.3,817.4 1442.6,818.0 1442.9,818.6 C1443.2,819.2 1443.5,819.7 1443.8,820.3 C1444.1,820.9 1444.4,821.5 1444.7,822.1 C1445.0,822.7 1445.4,823.3 1445.7,823.9 C1446.0,824.5 1446.3,825.1 1446.6,825.7 C1446.9,826.3 1447.2,826.9 1447.5,827.5 C1447.8,828.0 1448.1,828.6 1448.4,829.2 C1448.7,829.8 1449.0,830.4 1449.3,831.0 C1449.6,831.6 1449.9,832.2 1450.2,832.8 C1450.5,833.4 1450.8,834.0 1451.1,834.6 C1451.4,835.2 1451.7,835.8 1452.0,836.4 C1452.3,837.0 1452.6,837.6 1452.9,838.2 C1453.2,838.8 1453.5,839.4 1453.8,840.0 C1454.1,840.6 1454.4,841.2 1454.7,841.7 C1455.0,842.3 1455.3,842.9 1455.6,843.5 C1455.9,844.1 1456.2,844.7 1456.5,845.3 C1456.7,845.9 1457.0,846.5 1457.3,847.1 C1457.6,847.7 1457.9,848.3 1458.2,848.9 C1458.5,849.5 1458.8,850.1 1459.1,850.7 C1459.4,851.3 1459.7,851.9 1460.0,852.5 C1460.3,853.1 1460.6,853.7 1460.8,854.3 C1461.1,854.9 1461.4,855.5 1461.7,856.1 C1462.0,856.7 1462.3,857.3 1462.6,857.9 C1462.9,858.5 1463.2,859.2 1463.4,859.8 C1463.7,860.4 1464.0,861.0 1464.3,861.6 C1464.6,862.2 1464.9,862.8 1465.2,863.4 C1465.5,864.0 1465.7,864.6 1466.0,865.2 C1466.3,865.8 1466.6,866.4 1466.9,867.0 C1467.2,867.6 1467.5,868.2 1467.7,868.8 C1468.0,869.4 1468.3,870.0 1468.6,870.6 C1468.9,871.2 1469.2,871.8 1469.5,872.4 C1469.7,873.0 1470.0,873.6 1470.3,874.2 C1470.6,874.9 1470.9,875.5 1471.1,876.1 C1471.4,876.7 1471.7,877.3 1472.0,877.9 C1472.3,878.5 1472.6,879.1 1472.8,879.7 C1473.1,880.3 1473.4,880.9 1473.7,881.5 C1474.0,882.1 1474.2,882.7 1474.5,883.3 C1474.8,884.0 1475.1,884.6 1475.4,885.2 C1475.6,885.8 1475.9,886.4 1476.2,887.0 C1476.5,887.6 1476.7,888.2 1477.0,888.8 C1477.3,889.4 1477.6,890.0 1477.9,890.6 C1478.1,891.2 1478.4,891.9 1478.7,892.5 C1479.0,893.1 1479.2,893.7 1479.5,894.3 C1479.8,894.9 1480.1,895.5 1480.3,896.1 C1480.6,896.7 1480.9,897.3 1481.2,897.9 C1481.4,898.6 1481.7,899.2 1482.0,899.8 C1482.3,900.4 1482.5,901.0 1482.8,901.6 C1483.1,902.2 1483.4,902.8 1483.6,903.4 C1483.9,904.0 1484.2,904.7 1484.5,905.3 C1484.7,905.9 1485.0,906.5 1485.3,907.1 C1485.6,907.7 1485.8,908.3 1486.1,908.9 C1486.4,909.5 1486.6,910.2 1486.9,910.8 C1487.2,911.4 1487.5,912.0 1487.7,912.6 C1488.0,913.2 1488.3,913.8 1488.5,914.4 C1488.8,915.1 1489.1,915.7 1489.3,916.3 C1489.6,916.9 1489.9,917.5 1490.2,918.1 C1490.4,918.7 1490.7,919.3 1491.0,920.0 C1491.2,920.6 1491.5,921.2 1491.8,921.8 C1492.0,922.4 1492.3,923.0 1492.6,923.6 C1492.9,924.2 1493.1,924.9 1493.4,925.5 C1493.7,926.1 1493.9,926.7 1494.2,927.3 C1494.5,927.9 1494.7,928.5 1495.0,929.1 C1495.3,929.8 1495.5,930.4 1495.8,931.0 C1496.1,931.6 1496.3,932.2 1496.6,932.8 C1496.9,933.4 1497.1,934.1 1497.4,934.7 C1497.7,935.3 1497.9,935.9 1498.2,936.5 C1498.5,937.1 1498.7,937.7 1499.0,938.4 C1499.3,939.0 1499.5,939.6 1499.8,940.2 C1500.1,940.8 1500.3,941.4 1500.6,942.0 C1500.9,942.7 1501.1,943.3 1501.4,943.9 C1501.7,944.5 1501.9,945.1 1502.2,945.7 C1502.5,946.3 1502.7,947.0 1503.0,947.6 C1503.2,948.2 1503.5,948.8 1503.8,949.4 C1504.0,950.0 1504.3,950.6 1504.6,951.3 C1504.8,951.9 1505.1,952.5 1505.4,953.1 C1505.6,953.7 1505.9,954.3 1506.2,954.9 C1506.4,955.6 1506.7,956.2 1506.9,956.8 C1507.2,957.4 1507.5,958.0 1507.7,958.6 C1508.0,959.3 1508.3,959.9 1508.5,960.5 C1508.8,961.1 1509.1,961.7 1509.3,962.3 C1509.6,962.9 1509.8,963.6 1510.1,964.2 C1510.4,964.8 1510.6,965.4 1510.9,966.0 C1511.2,966.6 1511.4,967.3 1511.7,967.9 C1511.9,968.5 1512.2,969.1 1512.5,969.7 C1512.7,970.3 1513.0,970.9 1513.3,971.6 C1513.5,972.2 1513.8,972.8 1514.0,973.4 C1514.3,974.0 1514.6,974.6 1514.8,975.3 C1515.1,975.9 1515.4,976.5 1515.6,977.1 C1515.9,977.7 1516.1,978.3 1516.4,978.9 C1516.7,979.6 1516.9,980.2 1517.2,980.8 C1517.5,981.4 1517.7,982.0 1518.0,982.6 C1518.2,983.3 1518.5,983.9 1518.8,984.5 C1519.0,985.1 1519.3,985.7 1519.6,986.3 C1519.8,986.9 1520.1,987.6 1520.3,988.2 C1520.6,988.8 1520.9,989.4 1521.1,990.0 C1521.4,990.6 1521.6,991.3 1521.9,991.9 C1522.2,992.5 1522.4,993.1 1522.7,993.7 C1523.0,994.3 1523.2,994.9 1523.5,995.6 C1523.7,996.2 1524.0,996.8 1524.3,997.4 C1524.5,998.0 1524.8,998.6 1525.1,999.3 C1525.3,999.9 1525.6,1000.5 1525.8,1001.1 C1526.1,1001.7 1526.4,1002.3 1526.6,1002.9 C1526.9,1003.6 1527.2,1004.2 1527.4,1004.8 C1527.7,1005.4 1527.9,1006.0 1528.2,1006.6 C1528.5,1007.2 1528.7,1007.9 1529.0,1008.5 C1529.3,1009.1 1529.5,1009.7 1529.8,1010.3 C1530.0,1010.9 1530.3,1011.5 1530.6,1012.2 C1530.8,1012.8 1531.1,1013.4 1531.4,1014.0 C1531.6,1014.6 1531.9,1015.2 1532.1,1015.8 C1532.4,1016.5 1532.7,1017.1 1532.9,1017.7 C1533.2,1018.3 1533.5,1018.9 1533.7,1019.5 C1534.0,1020.1 1534.3,1020.7 1534.5,1021.4 C1534.8,1022.0 1535.0,1022.6 1535.3,1023.2 C1535.6,1023.8 1535.8,1024.4 1536.1,1025.0 C1536.4,1025.7 1536.6,1026.3 1536.9,1026.9 C1537.2,1027.5 1537.4,1028.1 1537.7,1028.7 C1537.9,1029.3 1538.2,1029.9 1538.5,1030.6 C1538.7,1031.2 1539.0,1031.8 1539.3,1032.4 C1539.5,1033.0 1539.8,1033.6 1540.1,1034.2 C1540.3,1034.8 1540.6,1035.4 1540.9,1036.1 C1541.1,1036.7 1541.4,1037.3 1541.7,1037.9 C1541.9,1038.5 1542.2,1039.1 1542.5,1039.7 C1542.7,1040.3 1543.0,1041.0 1543.3,1041.6 C1543.5,1042.2 1543.8,1042.8 1544.1,1043.4 C1544.3,1044.0 1544.6,1044.6 1544.9,1045.2 C1545.1,1045.8 1545.4,1046.4 1545.7,1047.1 C1545.9,1047.7 1546.2,1048.3 1546.5,1048.9 C1546.7,1049.5 1547.0,1050.1 1547.3,1050.7 C1547.5,1051.3 1547.8,1051.9 1548.1,1052.5 C1548.3,1053.2 1548.6,1053.8 1548.9,1054.4 C1549.1,1055.0 1549.4,1055.6 1549.7,1056.2 C1550.0,1056.8 1550.2,1057.4 1550.5,1058.0 C1550.8,1058.6 1551.0,1059.2 1551.3,1059.8 C1551.6,1060.5 1551.8,1061.1 1552.1,1061.7 C1552.4,1062.3 1552.7,1062.9 1552.9,1063.5 C1553.2,1064.1 1553.5,1064.7 1553.7,1065.3 C1554.0,1065.9 1554.3,1066.5 1554.5,1067.1 C1554.8,1067.7 1555.1,1068.4 1555.4,1069.0 C1555.6,1069.6 1555.9,1070.2 1556.2,1070.8 C1556.5,1071.4 1556.7,1072.0 1557.0,1072.6 C1557.3,1073.2 1557.5,1073.8 1557.8,1074.4 C1558.1,1075.0 1558.4,1075.6 1558.6,1076.2 C1558.9,1076.8 1559.2,1077.4 1559.5,1078.0 C1559.7,1078.6 1560.0,1079.3 1560.3,1079.9 C1560.6,1080.5 1560.8,1081.1 1561.1,1081.7 C1561.4,1082.3 1561.7,1082.9 1561.9,1083.5 C1562.2,1084.1 1562.5,1084.7 1562.8,1085.3 C1563.0,1085.9 1562.4,1084.7 1563.6,1087.1 C1564.8,1089.5 1568.1,1096.6 1570.0,1099.8 C1571.9,1103.0 1573.3,1104.8 1575.0,1106.5 C1576.7,1108.2 1575.9,1109.5 1580.0,1110.3 C1584.1,1111.1 1591.5,1111.1 1599.8,1111.2 C1608.1,1111.3 1600.0,1110.8 1630.0,1110.7 C1660.0,1110.6 1720.5,1110.4 1780.0,1110.4 C1839.5,1110.4 1952.5,1110.7 1987.0,1110.8" fill="none" stroke="#c8202a" stroke-width="6.5" stroke-linecap="round" stroke-linejoin="round"/><path d="M329.5,258.0 C329.5,256.0 329.3,249.2 329.6,246.0 C329.9,242.8 330.3,240.7 331.5,239.0 C332.7,237.3 335.8,236.3 337.0,235.8 C338.2,235.3 338.3,235.9 339.0,235.9 C339.6,235.9 340.3,236.0 341.0,236.0 C341.6,236.0 342.3,236.0 342.9,236.1 C343.6,236.1 344.3,236.1 344.9,236.2 C345.6,236.2 346.3,236.2 346.9,236.2 C347.6,236.2 348.2,236.3 348.9,236.3 C349.6,236.3 350.2,236.3 350.9,236.4 C351.6,236.4 352.2,236.4 352.9,236.4 C353.5,236.4 354.2,236.5 354.9,236.5 C355.5,236.5 356.2,236.5 356.9,236.5 C357.5,236.5 358.2,236.6 358.8,236.6 C359.5,236.6 360.2,236.6 360.8,236.6 C361.5,236.6 362.2,236.6 362.8,236.6 C363.5,236.7 364.2,236.7 364.8,236.7 C365.5,236.7 366.2,236.7 366.8,236.7 C367.5,236.7 368.2,236.7 368.8,236.7 C369.5,236.7 370.1,236.7 370.8,236.7 C371.5,236.8 372.1,236.8 372.8,236.8 C373.5,236.8 374.1,236.8 374.8,236.8 C375.5,236.8 376.1,236.8 376.8,236.8 C377.5,236.8 378.1,236.8 378.8,236.8 C379.5,236.8 380.1,236.8 380.8,236.8 C381.5,236.8 382.1,236.8 382.8,236.8 C383.5,236.8 384.1,236.8 384.8,236.8 C385.5,236.8 386.2,236.8 386.8,236.8 C387.5,236.8 388.2,236.8 388.8,236.8 C389.5,236.8 390.2,236.8 390.8,236.7 C391.5,236.7 392.2,236.7 392.8,236.7 C393.5,236.7 394.2,236.7 394.8,236.7 C395.5,236.7 396.2,236.7 396.8,236.7 C397.5,236.7 398.2,236.7 398.9,236.7 C399.5,236.7 400.2,236.6 400.9,236.6 C401.5,236.6 402.2,236.6 402.9,236.6 C403.5,236.6 404.2,236.6 404.9,236.6 C405.5,236.6 406.2,236.6 406.9,236.5 C407.6,236.5 408.2,236.5 408.9,236.5 C409.6,236.5 410.2,236.5 410.9,236.5 C411.6,236.5 412.2,236.5 412.9,236.4 C413.6,236.4 414.3,236.4 414.9,236.4 C415.6,236.4 416.3,236.4 416.9,236.4 C417.6,236.3 418.3,236.3 419.0,236.3 C419.6,236.3 420.3,236.3 421.0,236.3 C421.6,236.3 422.3,236.2 423.0,236.2 C423.7,236.2 424.3,236.2 425.0,236.2 C425.7,236.2 426.3,236.1 427.0,236.1 C427.7,236.1 428.3,236.1 429.0,236.1 C429.7,236.1 430.4,236.1 431.0,236.0 C431.7,236.0 432.4,236.0 433.0,236.0 C433.7,236.0 434.4,236.0 435.1,235.9 C435.7,235.9 436.4,235.9 437.1,235.9 C437.8,235.9 438.4,235.9 439.1,235.8 C439.8,235.8 440.4,235.8 441.1,235.8 C441.8,235.8 442.5,235.8 443.1,235.7 C443.8,235.7 444.5,235.7 445.1,235.7 C445.8,235.7 446.5,235.7 447.2,235.6 C447.8,235.6 448.5,235.6 449.2,235.6 C449.8,235.6 450.5,235.6 451.2,235.5 C451.9,235.5 452.5,235.5 453.2,235.5 C453.9,235.5 454.5,235.5 455.2,235.4 C455.9,235.4 456.6,235.4 457.2,235.4 C457.9,235.4 458.6,235.4 459.3,235.3 C459.9,235.3 460.6,235.3 461.3,235.3 C461.9,235.3 462.6,235.3 463.3,235.3 C464.0,235.2 464.6,235.2 465.3,235.2 C466.0,235.2 466.6,235.2 467.3,235.2 C468.0,235.2 468.7,235.1 469.3,235.1 C470.0,235.1 470.7,235.1 471.4,235.1 C472.0,235.1 472.7,235.1 473.4,235.0 C474.0,235.0 474.7,235.0 475.4,235.0 C476.1,235.0 476.7,235.0 477.4,235.0 C478.1,235.0 478.7,235.0 479.4,234.9 C480.1,234.9 480.8,234.9 481.4,234.9 C482.1,234.9 482.8,234.9 483.4,234.9 C484.1,234.9 484.8,234.9 485.5,234.9 C486.1,234.9 486.8,234.8 487.5,234.8 C488.1,234.8 488.8,234.8 489.5,234.8 C490.2,234.8 490.8,234.8 491.5,234.8 C492.2,234.8 492.8,234.8 493.5,234.8 C494.2,234.8 494.9,234.8 495.5,234.8 C496.2,234.8 496.9,234.8 497.5,234.8 C498.2,234.8 498.9,234.8 499.6,234.7 C500.2,234.7 500.9,234.7 501.6,234.7 C502.2,234.7 502.9,234.7 503.6,234.7 C504.3,234.7 504.9,234.7 505.6,234.7 C506.3,234.7 506.9,234.8 507.6,234.8 C508.3,234.8 508.9,234.8 509.6,234.8 C510.3,234.8 511.0,234.8 511.6,234.8 C512.3,234.8 513.0,234.8 513.6,234.8 C514.3,234.8 515.0,234.8 515.6,234.8 C516.3,234.8 517.0,234.8 517.7,234.8 C518.3,234.8 519.0,234.9 519.7,234.9 C520.3,234.9 521.0,234.9 521.7,234.9 C522.3,234.9 523.0,234.9 523.7,234.9 C524.3,235.0 525.0,235.0 525.7,235.0 C526.4,235.0 527.0,235.0 527.7,235.0 C528.4,235.0 529.0,235.1 529.7,235.1 C530.4,235.1 531.0,235.1 531.7,235.1 C532.4,235.2 533.0,235.2 533.7,235.2 C534.4,235.2 535.0,235.2 535.7,235.3 C536.4,235.3 537.0,235.3 537.7,235.3 C538.4,235.4 539.0,235.4 539.7,235.4 C540.4,235.4 541.0,235.5 541.7,235.5 C542.4,235.5 543.0,235.5 543.7,235.6 C544.4,235.6 545.0,235.6 545.7,235.7 C546.4,235.7 547.0,235.7 547.7,235.8 C548.4,235.8 549.0,235.8 549.7,235.9 C550.4,235.9 551.0,235.9 551.7,236.0 C552.4,236.0 553.0,236.1 553.7,236.1 C554.4,236.1 555.0,236.2 555.7,236.2 C556.4,236.3 557.0,236.3 557.7,236.3 C558.3,236.4 559.0,236.4 559.7,236.5 C560.3,236.5 561.0,236.6 561.7,236.6 C562.3,236.7 563.0,236.7 563.7,236.8 C564.3,236.8 565.0,236.9 565.6,236.9 C566.3,237.0 567.0,237.0 567.6,237.1 C568.3,237.1 569.0,237.2 569.6,237.2 C570.3,237.3 571.0,237.4 571.6,237.4 C572.3,237.5 572.9,237.5 573.6,237.6 C574.3,237.7 574.9,237.7 575.6,237.8 C576.2,237.9 576.9,237.9 577.6,238.0 C578.2,238.0 578.9,238.1 579.5,238.2 C580.2,238.3 580.9,238.3 581.5,238.4 C582.2,238.5 582.8,238.5 583.5,238.6 C584.2,238.7 584.8,238.8 585.5,238.8 C586.1,238.9 586.8,239.0 587.5,239.1 C588.1,239.2 588.8,239.2 589.4,239.3 C590.1,239.4 590.8,239.5 591.4,239.6 C592.1,239.6 592.7,239.7 593.4,239.8 C594.0,239.9 594.7,240.0 595.4,240.1 C596.0,240.2 596.7,240.3 597.3,240.4 C598.0,240.5 598.6,240.5 599.3,240.6 C600.0,240.7 600.6,240.8 601.3,240.9 C601.9,241.0 602.6,241.1 603.2,241.2 C603.9,241.3 604.6,241.4 605.2,241.5 C605.9,241.6 606.5,241.8 607.2,241.9 C607.8,242.0 608.5,242.1 609.1,242.2 C609.8,242.3 610.4,242.4 611.1,242.5 C611.7,242.6 612.4,242.7 613.1,242.9 C613.7,243.0 614.4,243.1 615.0,243.2 C615.7,243.3 616.3,243.5 617.0,243.6 C617.6,243.7 618.3,243.8 618.9,244.0 C619.6,244.1 620.2,244.2 620.9,244.3 C621.5,244.5 622.2,244.6 622.8,244.7 C623.5,244.9 624.1,245.0 624.8,245.1 C625.4,245.3 626.1,245.4 626.7,245.5 C627.4,245.7 628.0,245.8 628.7,246.0 C629.3,246.1 630.0,246.3 630.6,246.4 C631.3,246.5 631.9,246.7 632.6,246.8 C633.2,247.0 633.9,247.1 634.5,247.3 C635.2,247.5 635.8,247.6 636.5,247.8 C637.1,247.9 637.7,248.1 638.4,248.2 C639.0,248.4 639.7,248.6 640.3,248.7 C641.0,248.9 641.6,249.0 642.3,249.2 C642.9,249.4 643.6,249.5 644.2,249.7 C644.8,249.9 645.5,250.1 646.1,250.2 C646.8,250.4 647.4,250.6 648.1,250.8 C648.7,250.9 649.3,251.1 650.0,251.3 C650.6,251.5 651.3,251.6 651.9,251.8 C652.5,252.0 653.2,252.2 653.8,252.4 C654.5,252.6 655.1,252.8 655.8,252.9 C656.4,253.1 657.0,253.3 657.7,253.5 C658.3,253.7 658.9,253.9 659.6,254.1 C660.2,254.3 660.9,254.5 661.5,254.7 C662.1,254.9 662.8,255.1 663.4,255.3 C664.0,255.5 664.7,255.7 665.3,255.9 C665.9,256.1 666.6,256.3 667.2,256.5 C667.9,256.7 668.5,257.0 669.1,257.2 C669.8,257.4 670.4,257.6 671.0,257.8 C671.7,258.0 672.3,258.2 672.9,258.5 C673.5,258.7 674.2,258.9 674.8,259.1 C675.4,259.3 676.1,259.6 676.7,259.8 C677.3,260.0 678.0,260.2 678.6,260.5 C679.2,260.7 679.8,260.9 680.5,261.2 C681.1,261.4 681.7,261.6 682.4,261.8 C683.0,262.1 683.6,262.3 684.2,262.6 C684.9,262.8 685.5,263.0 686.1,263.3 C686.7,263.5 687.4,263.8 688.0,264.0 C688.6,264.2 689.2,264.5 689.9,264.7 C690.5,265.0 691.1,265.2 691.7,265.5 C692.3,265.7 693.0,266.0 693.6,266.2 C694.2,266.5 694.8,266.7 695.4,267.0 C696.1,267.2 696.7,267.5 697.3,267.8 C697.9,268.0 698.5,268.3 699.1,268.5 C699.8,268.8 700.4,269.1 701.0,269.3 C701.6,269.6 702.2,269.9 702.8,270.1 C703.5,270.4 704.1,270.7 704.7,270.9 C705.3,271.2 705.9,271.5 706.5,271.7 C707.1,272.0 707.7,272.3 708.3,272.6 C709.0,272.8 709.6,273.1 710.2,273.4 C710.8,273.7 711.4,274.0 712.0,274.2 C712.6,274.5 713.2,274.8 713.8,275.1 C714.4,275.4 715.0,275.7 715.6,276.0 C716.2,276.2 716.9,276.5 717.5,276.8 C718.1,277.1 718.7,277.4 719.3,277.7 C719.9,278.0 720.5,278.3 721.1,278.6 C721.7,278.9 722.3,279.2 722.9,279.5 C723.5,279.8 724.1,280.1 724.7,280.4 C725.3,280.7 725.9,281.0 726.5,281.3 C727.1,281.6 727.7,281.9 728.2,282.2 C728.8,282.5 729.4,282.8 730.0,283.1 C730.6,283.5 731.2,283.8 731.8,284.1 C732.4,284.4 733.0,284.7 733.6,285.0 C734.2,285.3 734.8,285.7 735.4,286.0 C735.9,286.3 736.5,286.6 737.1,286.9 C737.7,287.3 738.3,287.6 738.9,287.9 C739.5,288.2 740.0,288.6 740.6,288.9 C741.2,289.2 741.8,289.5 742.4,289.9 C743.0,290.2 743.5,290.5 744.1,290.9 C744.7,291.2 745.3,291.5 745.9,291.9 C746.4,292.2 747.0,292.5 747.6,292.9 C748.2,293.2 748.8,293.6 749.3,293.9 C749.9,294.2 750.5,294.6 751.1,294.9 C751.6,295.3 752.2,295.6 752.8,296.0 C753.4,296.3 753.9,296.7 754.5,297.0 C755.1,297.4 755.6,297.7 756.2,298.1 C756.8,298.4 757.3,298.8 757.9,299.1 C758.5,299.5 759.0,299.8 759.6,300.2 C760.2,300.5 760.7,300.9 761.3,301.3 C761.9,301.6 762.4,302.0 763.0,302.3 C763.6,302.7 764.1,303.1 764.7,303.4 C765.2,303.8 765.8,304.2 766.4,304.5 C766.9,304.9 767.5,305.3 768.0,305.6 C768.6,306.0 769.1,306.4 769.7,306.8 C770.2,307.1 770.8,307.5 771.4,307.9 C771.9,308.2 772.5,308.6 773.0,309.0 C773.6,309.4 774.1,309.8 774.7,310.1 C775.2,310.5 775.7,310.9 776.3,311.3 C776.8,311.7 777.4,312.0 777.9,312.4 C778.5,312.8 779.0,313.2 779.6,313.6 C780.1,314.0 780.6,314.4 781.2,314.8 C781.7,315.1 782.3,315.5 782.8,315.9 C783.3,316.3 783.9,316.7 784.4,317.1 C785.0,317.5 785.5,317.9 786.0,318.3 C786.6,318.7 787.1,319.1 787.6,319.5 C788.2,319.9 788.7,320.3 789.2,320.7 C789.8,321.1 790.3,321.5 790.8,321.9 C791.3,322.3 791.9,322.7 792.4,323.1 C792.9,323.5 793.5,323.9 794.0,324.3 C794.5,324.7 795.0,325.2 795.6,325.6 C796.1,326.0 796.6,326.4 797.1,326.8 C797.6,327.2 798.2,327.6 798.7,328.0 C799.2,328.4 799.7,328.9 800.3,329.3 C800.8,329.7 801.3,330.1 801.8,330.5 C802.3,330.9 802.8,331.4 803.4,331.8 C803.9,332.2 804.4,332.6 804.9,333.0 C805.4,333.4 805.9,333.9 806.5,334.3 C807.0,334.7 807.5,335.1 808.0,335.6 C808.5,336.0 809.0,336.4 809.5,336.8 C810.0,337.3 810.6,337.7 811.1,338.1 C811.6,338.5 812.1,339.0 812.6,339.4 C813.1,339.8 813.6,340.2 814.1,340.7 C814.6,341.1 815.2,341.5 815.7,341.9 C816.2,342.4 816.7,342.8 817.2,343.2 C817.7,343.7 818.2,344.1 818.7,344.5 C819.2,345.0 819.7,345.4 820.2,345.8 C820.7,346.3 821.2,346.7 821.7,347.1 C822.2,347.6 822.8,348.0 823.3,348.4 C823.8,348.9 824.3,349.3 824.8,349.7 C825.3,350.2 825.8,350.6 826.3,351.0 C826.8,351.5 827.3,351.9 827.8,352.3 C828.3,352.8 828.8,353.2 829.3,353.6 C829.8,354.1 830.3,354.5 830.8,354.9 C831.3,355.4 831.8,355.8 832.3,356.3 C832.8,356.7 833.3,357.1 833.8,357.6 C834.3,358.0 834.8,358.4 835.3,358.9 C835.8,359.3 836.3,359.8 836.8,360.2 C837.3,360.6 837.8,361.1 838.3,361.5 C838.8,361.9 839.3,362.4 839.8,362.8 C840.3,363.3 840.8,363.7 841.3,364.1 C841.8,364.6 842.3,365.0 842.8,365.4 C843.3,365.9 843.8,366.3 844.3,366.8 C844.8,367.2 845.3,367.6 845.8,368.1 C846.4,368.5 846.9,368.9 847.4,369.4 C847.9,369.8 848.4,370.3 848.9,370.7 C849.4,371.1 849.9,371.6 850.4,372.0 C850.9,372.4 851.4,372.9 851.9,373.3 C852.4,373.7 852.9,374.2 853.4,374.6 C853.9,375.1 854.4,375.5 854.9,375.9 C855.4,376.4 855.9,376.8 856.4,377.2 C856.9,377.7 857.4,378.1 857.9,378.5 C858.4,379.0 858.9,379.4 859.4,379.8 C859.9,380.3 860.4,380.7 861.0,381.1 C861.5,381.6 862.0,382.0 862.5,382.4 C863.0,382.9 863.5,383.3 864.0,383.7 C864.5,384.1 865.0,384.6 865.5,385.0 C866.0,385.4 866.5,385.9 867.0,386.3 C867.6,386.7 868.1,387.2 868.6,387.6 C869.1,388.0 869.6,388.4 870.1,388.9 C870.6,389.3 871.1,389.7 871.6,390.1 C872.2,390.6 872.7,391.0 873.2,391.4 C873.7,391.8 874.2,392.3 874.7,392.7 C875.2,393.1 875.8,393.5 876.3,393.9 C876.8,394.4 877.3,394.8 877.8,395.2 C878.3,395.6 878.9,396.0 879.4,396.5 C879.9,396.9 880.4,397.3 880.9,397.7 C881.5,398.1 882.0,398.5 882.5,398.9 C883.0,399.4 883.5,399.8 884.1,400.2 C884.6,400.6 885.1,401.0 885.6,401.4 C886.2,401.8 886.7,402.2 887.2,402.7 C887.7,403.1 888.3,403.5 888.8,403.9 C889.3,404.3 889.8,404.7 890.4,405.1 C890.9,405.5 891.4,405.9 891.9,406.3 C892.5,406.7 893.0,407.1 893.5,407.5 C894.1,407.9 894.6,408.3 895.1,408.7 C895.7,409.1 896.2,409.5 896.7,409.9 C897.3,410.3 897.8,410.7 898.3,411.1 C898.9,411.5 899.4,411.9 899.9,412.3 C900.5,412.7 901.0,413.1 901.5,413.5 C902.1,413.9 902.6,414.3 903.2,414.7 C903.7,415.1 904.2,415.4 904.8,415.8 C905.3,416.2 905.9,416.6 906.4,417.0 C906.9,417.4 907.5,417.8 908.0,418.2 C908.6,418.5 909.1,418.9 909.7,419.3 C910.2,419.7 910.7,420.1 911.3,420.4 C911.8,420.8 912.4,421.2 912.9,421.6 C913.5,422.0 914.0,422.3 914.6,422.7 C915.1,423.1 915.7,423.5 916.2,423.8 C916.8,424.2 917.3,424.6 917.9,425.0 C918.4,425.3 919.0,425.7 919.5,426.1 C920.1,426.4 920.6,426.8 921.2,427.2 C921.7,427.5 922.3,427.9 922.9,428.3 C923.4,428.6 924.0,429.0 924.5,429.4 C925.1,429.7 925.6,430.1 926.2,430.4 C926.8,430.8 927.3,431.1 927.9,431.5 C928.4,431.9 929.0,432.2 929.6,432.6 C930.1,432.9 930.7,433.3 931.3,433.6 C931.8,434.0 932.4,434.3 932.9,434.7 C933.5,435.0 934.1,435.4 934.6,435.7 C935.2,436.1 935.8,436.4 936.4,436.8 C936.9,437.1 937.5,437.4 938.1,437.8 C938.6,438.1 939.2,438.5 939.8,438.8 C940.3,439.1 940.9,439.5 941.5,439.8 C942.1,440.1 942.6,440.5 943.2,440.8 C943.8,441.1 944.4,441.5 944.9,441.8 C945.5,442.1 946.1,442.5 946.7,442.8 C947.2,443.1 947.8,443.4 948.4,443.8 C949.0,444.1 949.6,444.4 950.2,444.7 C950.7,445.1 951.3,445.4 951.9,445.7 C952.5,446.0 953.1,446.3 953.6,446.6 C954.2,447.0 954.8,447.3 955.4,447.6 C956.0,447.9 956.6,448.2 957.2,448.5 C957.8,448.8 958.3,449.1 958.9,449.4 C959.5,449.7 960.1,450.0 960.7,450.3 C961.3,450.7 961.9,451.0 962.5,451.3 C963.1,451.6 963.7,451.9 964.3,452.1 C964.9,452.4 965.5,452.7 966.1,453.0 C966.7,453.3 967.3,453.6 967.8,453.9 C968.4,454.2 969.0,454.5 969.6,454.8 C970.2,455.1 970.8,455.3 971.5,455.6 C972.1,455.9 972.7,456.2 973.3,456.5 C973.9,456.7 974.5,457.0 975.1,457.3 C975.7,457.6 976.3,457.9 976.9,458.1 C977.5,458.4 978.1,458.7 978.7,458.9 C979.3,459.2 979.9,459.5 980.5,459.7 C981.2,460.0 981.8,460.3 982.4,460.5 C983.0,460.8 983.6,461.1 984.2,461.3 C984.8,461.6 985.5,461.8 986.1,462.1 C986.7,462.4 987.3,462.6 987.9,462.9 C988.5,463.1 989.2,463.4 989.8,463.6 C990.4,463.9 991.0,464.1 991.6,464.4 C992.3,464.6 992.9,464.9 993.5,465.1 C994.1,465.4 994.7,465.6 995.4,465.9 C996.0,466.1 996.6,466.4 997.2,466.6 C997.8,466.8 998.5,467.1 999.1,467.3 C999.7,467.6 1000.3,467.8 1001.0,468.1 C1001.6,468.3 1002.2,468.6 1002.8,468.8 C1003.4,469.0 1004.1,469.3 1004.7,469.5 C1005.3,469.8 1005.9,470.0 1006.6,470.3 C1007.2,470.5 1007.8,470.7 1008.4,471.0 C1009.1,471.2 1009.7,471.5 1010.3,471.7 C1010.9,471.9 1011.6,472.2 1012.2,472.4 C1012.8,472.7 1013.4,472.9 1014.0,473.2 C1014.7,473.4 1015.3,473.7 1015.9,473.9 C1016.5,474.1 1017.2,474.4 1017.8,474.6 C1018.4,474.9 1019.0,475.1 1019.6,475.4 C1020.3,475.6 1020.9,475.9 1021.5,476.1 C1022.1,476.4 1022.7,476.6 1023.4,476.9 C1024.0,477.1 1024.6,477.4 1025.2,477.7 C1025.8,477.9 1026.4,478.2 1027.1,478.4 C1027.7,478.7 1028.3,478.9 1028.9,479.2 C1029.5,479.5 1030.1,479.7 1030.7,480.0 C1031.4,480.3 1032.0,480.5 1032.6,480.8 C1033.2,481.1 1033.8,481.3 1034.4,481.6 C1035.0,481.9 1035.6,482.1 1036.2,482.4 C1036.8,482.7 1037.4,483.0 1038.1,483.3 C1038.7,483.5 1039.3,483.8 1039.9,484.1 C1040.5,484.4 1041.1,484.7 1041.7,485.0 C1042.3,485.3 1042.9,485.5 1043.5,485.8 C1044.1,486.1 1044.7,486.4 1045.3,486.7 C1045.8,487.0 1046.4,487.3 1047.0,487.6 C1047.6,487.9 1048.2,488.2 1048.8,488.6 C1049.4,488.9 1050.0,489.2 1050.6,489.5 C1051.2,489.8 1051.7,490.1 1052.3,490.5 C1052.9,490.8 1053.5,491.1 1054.1,491.4 C1054.7,491.8 1055.2,492.1 1055.8,492.4 C1056.4,492.8 1057.0,493.1 1057.5,493.4 C1058.1,493.8 1058.7,494.1 1059.3,494.5 C1059.8,494.8 1060.4,495.2 1061.0,495.5 C1061.5,495.9 1062.1,496.2 1062.7,496.6 C1063.2,496.9 1063.8,497.3 1064.4,497.6 C1064.9,498.0 1065.5,498.4 1066.1,498.7 C1066.6,499.1 1067.2,499.5 1067.7,499.8 C1068.3,500.2 1068.9,500.6 1069.4,500.9 C1070.0,501.3 1070.5,501.7 1071.1,502.1 C1071.6,502.4 1072.2,502.8 1072.7,503.2 C1073.3,503.6 1073.8,504.0 1074.4,504.4 C1074.9,504.7 1075.5,505.1 1076.0,505.5 C1076.6,505.9 1077.1,506.3 1077.7,506.7 C1078.2,507.1 1078.8,507.5 1079.3,507.9 C1079.9,508.3 1080.4,508.7 1080.9,509.1 C1081.5,509.5 1082.0,509.9 1082.6,510.3 C1083.1,510.7 1083.6,511.1 1084.2,511.5 C1084.7,511.9 1085.3,512.3 1085.8,512.7 C1086.3,513.1 1086.9,513.5 1087.4,513.9 C1087.9,514.4 1088.5,514.8 1089.0,515.2 C1089.5,515.6 1090.1,516.0 1090.6,516.4 C1091.1,516.9 1091.7,517.3 1092.2,517.7 C1092.7,518.1 1093.2,518.5 1093.8,518.9 C1094.3,519.4 1094.8,519.8 1095.4,520.2 C1095.9,520.6 1096.4,521.1 1096.9,521.5 C1097.5,521.9 1098.0,522.3 1098.5,522.8 C1099.0,523.2 1099.6,523.6 1100.1,524.0 C1100.6,524.5 1101.1,524.9 1101.7,525.3 C1102.2,525.7 1102.7,526.2 1103.2,526.6 C1103.7,527.0 1104.3,527.5 1104.8,527.9 C1105.3,528.3 1105.8,528.8 1106.3,529.2 C1106.9,529.6 1107.4,530.0 1107.9,530.5 C1108.4,530.9 1108.9,531.3 1109.5,531.8 C1110.0,532.2 1110.5,532.6 1111.0,533.1 C1111.5,533.5 1112.0,533.9 1112.6,534.4 C1113.1,534.8 1113.6,535.2 1114.1,535.7 C1114.6,536.1 1115.1,536.5 1115.7,537.0 C1116.2,537.4 1116.7,537.8 1117.2,538.3 C1117.7,538.7 1118.2,539.1 1118.7,539.5 C1119.3,540.0 1119.8,540.4 1120.3,540.8 C1120.8,541.3 1121.3,541.7 1121.8,542.1 C1122.3,542.6 1122.9,543.0 1123.4,543.4 C1123.9,543.9 1124.4,544.3 1124.9,544.7 C1125.4,545.1 1125.9,545.6 1126.4,546.0 C1127.0,546.4 1127.5,546.9 1128.0,547.3 C1128.5,547.7 1129.0,548.2 1129.5,548.6 C1130.0,549.0 1130.5,549.5 1131.0,549.9 C1131.5,550.3 1132.0,550.8 1132.5,551.2 C1133.0,551.6 1133.5,552.1 1134.0,552.5 C1134.5,553.0 1135.0,553.4 1135.5,553.8 C1136.0,554.3 1136.5,554.7 1137.0,555.2 C1137.5,555.6 1138.0,556.0 1138.5,556.5 C1139.0,556.9 1139.4,557.4 1139.9,557.8 C1140.4,558.3 1140.9,558.7 1141.4,559.2 C1141.9,559.6 1142.3,560.1 1142.8,560.5 C1143.3,561.0 1143.8,561.4 1144.2,561.9 C1144.7,562.4 1145.2,562.8 1145.7,563.3 C1146.1,563.7 1146.6,564.2 1147.1,564.7 C1147.5,565.1 1148.0,565.6 1148.4,566.1 C1148.9,566.5 1149.4,567.0 1149.8,567.5 C1150.3,568.0 1150.7,568.5 1151.2,568.9 C1151.6,569.4 1152.1,569.9 1152.5,570.4 C1152.9,570.9 1153.4,571.4 1153.8,571.8 C1154.2,572.3 1154.7,572.8 1155.1,573.3 C1155.5,573.8 1156.0,574.3 1156.4,574.8 C1156.8,575.3 1157.2,575.8 1157.6,576.3 C1158.1,576.9 1158.5,577.4 1158.9,577.9 C1159.3,578.4 1159.7,578.9 1160.1,579.4 C1160.5,580.0 1160.9,580.5 1161.3,581.0 C1161.7,581.5 1162.1,582.1 1162.5,582.6 C1162.9,583.1 1163.2,583.7 1163.6,584.2 C1164.0,584.7 1164.4,585.3 1164.8,585.8 C1165.2,586.4 1165.5,586.9 1165.9,587.5 C1166.3,588.0 1166.7,588.5 1167.0,589.1 C1167.4,589.6 1167.8,590.2 1168.2,590.7 C1168.5,591.3 1168.9,591.8 1169.3,592.4 C1169.6,593.0 1170.0,593.5 1170.4,594.1 C1170.7,594.6 1171.1,595.2 1171.5,595.7 C1171.8,596.3 1172.2,596.8 1172.6,597.4 C1172.9,597.9 1173.3,598.5 1173.7,599.1 C1174.0,599.6 1174.4,600.2 1174.8,600.7 C1175.1,601.3 1175.5,601.8 1175.9,602.4 C1176.2,602.9 1176.6,603.5 1177.0,604.1 C1177.3,604.6 1177.7,605.2 1178.1,605.7 C1178.5,606.3 1178.8,606.8 1179.2,607.4 C1179.6,607.9 1179.9,608.5 1180.3,609.0 C1180.7,609.6 1181.0,610.2 1181.4,610.7 C1181.8,611.3 1182.2,611.8 1182.5,612.4 C1182.9,612.9 1183.3,613.5 1183.6,614.0 C1184.0,614.6 1184.4,615.1 1184.8,615.7 C1185.1,616.2 1185.5,616.8 1185.9,617.3 C1186.3,617.9 1186.6,618.4 1187.0,619.0 C1187.4,619.5 1187.8,620.1 1188.1,620.7 C1188.5,621.2 1188.9,621.8 1189.3,622.3 C1189.6,622.9 1190.0,623.4 1190.4,624.0 C1190.8,624.5 1191.1,625.1 1191.5,625.6 C1191.9,626.2 1192.3,626.7 1192.6,627.3 C1193.0,627.8 1193.4,628.4 1193.8,628.9 C1194.2,629.5 1194.5,630.0 1194.9,630.6 C1195.3,631.1 1195.7,631.7 1196.0,632.2 C1196.4,632.8 1196.8,633.3 1197.2,633.9 C1197.6,634.4 1197.9,635.0 1198.3,635.5 C1198.7,636.1 1199.1,636.6 1199.5,637.2 C1199.8,637.7 1200.2,638.3 1200.6,638.8 C1201.0,639.4 1201.4,639.9 1201.7,640.4 C1202.1,641.0 1202.5,641.5 1202.9,642.1 C1203.3,642.6 1203.6,643.2 1204.0,643.7 C1204.4,644.3 1204.8,644.8 1205.2,645.4 C1205.6,645.9 1205.9,646.5 1206.3,647.0 C1206.7,647.6 1207.1,648.1 1207.5,648.7 C1207.9,649.2 1208.2,649.8 1208.6,650.3 C1209.0,650.9 1209.4,651.4 1209.8,652.0 C1210.2,652.5 1210.5,653.0 1210.9,653.6 C1211.3,654.1 1211.7,654.7 1212.1,655.2 C1212.5,655.8 1212.8,656.3 1213.2,656.9 C1213.6,657.4 1214.0,658.0 1214.4,658.5 C1214.8,659.1 1215.1,659.6 1215.5,660.2 C1215.9,660.7 1216.3,661.2 1216.7,661.8 C1217.1,662.3 1217.4,662.9 1217.8,663.4 C1218.2,664.0 1218.6,664.5 1219.0,665.1 C1219.4,665.6 1219.8,666.2 1220.1,666.7 C1220.5,667.3 1220.9,667.8 1221.3,668.4 C1221.7,668.9 1222.1,669.4 1222.5,670.0 C1222.8,670.5 1223.2,671.1 1223.6,671.6 C1224.0,672.2 1224.4,672.7 1224.8,673.3 C1225.2,673.8 1225.5,674.4 1225.9,674.9 C1226.3,675.5 1226.7,676.0 1227.1,676.5 C1227.5,677.1 1227.9,677.6 1228.2,678.2 C1228.6,678.7 1229.0,679.3 1229.4,679.8 C1229.8,680.4 1230.2,680.9 1230.6,681.5 C1230.9,682.0 1231.3,682.5 1231.7,683.1 C1232.1,683.6 1232.5,684.2 1232.9,684.7 C1233.3,685.3 1233.6,685.8 1234.0,686.4 C1234.4,686.9 1234.8,687.5 1235.2,688.0 C1235.6,688.6 1236.0,689.1 1236.4,689.6 C1236.7,690.2 1237.1,690.7 1237.5,691.3 C1237.9,691.8 1238.3,692.4 1238.7,692.9 C1239.1,693.5 1239.4,694.0 1239.8,694.6 C1240.2,695.1 1240.6,695.7 1241.0,696.2 C1241.4,696.7 1241.8,697.3 1242.1,697.8 C1242.5,698.4 1242.9,698.9 1243.3,699.5 C1243.7,700.0 1244.1,700.6 1244.5,701.1 C1244.8,701.7 1245.2,702.2 1245.6,702.8 C1246.0,703.3 1246.4,703.9 1246.8,704.4 C1247.2,704.9 1247.5,705.5 1247.9,706.0 C1248.3,706.6 1248.7,707.1 1249.1,707.7 C1249.5,708.2 1249.8,708.8 1250.2,709.3 C1250.6,709.9 1251.0,710.4 1251.4,711.0 C1251.8,711.5 1252.2,712.1 1252.5,712.6 C1252.9,713.2 1253.3,713.7 1253.7,714.3 C1254.1,714.8 1254.5,715.3 1254.8,715.9 C1255.2,716.4 1255.6,717.0 1256.0,717.5 C1256.4,718.1 1256.8,718.6 1257.1,719.2 C1257.5,719.7 1257.9,720.3 1258.3,720.8 C1258.7,721.4 1259.1,721.9 1259.4,722.5 C1259.8,723.0 1260.2,723.6 1260.6,724.1 C1261.0,724.7 1261.3,725.2 1261.7,725.8 C1262.1,726.3 1262.5,726.9 1262.9,727.4 C1263.3,728.0 1263.6,728.5 1264.0,729.1 C1264.4,729.6 1264.8,730.2 1265.2,730.7 C1265.5,731.3 1265.9,731.8 1266.3,732.4 C1266.7,732.9 1267.1,733.5 1267.4,734.0 C1267.8,734.6 1268.2,735.1 1268.6,735.7 C1269.0,736.2 1269.3,736.8 1269.7,737.3 C1270.1,737.9 1270.5,738.4 1270.8,739.0 C1271.2,739.5 1271.6,740.1 1272.0,740.6 C1272.4,741.2 1272.7,741.7 1273.1,742.3 C1273.5,742.8 1273.9,743.4 1274.2,743.9 C1274.6,744.5 1275.0,745.0 1275.4,745.6 C1275.7,746.1 1276.1,746.7 1276.5,747.2 C1276.9,747.8 1277.3,748.4 1277.6,748.9 C1278.0,749.5 1278.4,750.0 1278.7,750.6 C1279.1,751.1 1279.5,751.7 1279.9,752.2 C1280.2,752.8 1280.6,753.3 1281.0,753.9 C1281.4,754.4 1281.7,755.0 1282.1,755.6 C1282.5,756.1 1282.9,756.7 1283.2,757.2 C1283.6,757.8 1284.0,758.3 1284.3,758.9 C1284.7,759.4 1285.1,760.0 1285.5,760.5 C1285.8,761.1 1286.2,761.7 1286.6,762.2 C1286.9,762.8 1287.3,763.3 1287.7,763.9 C1288.0,764.4 1288.4,765.0 1288.8,765.6 C1289.2,766.1 1289.5,766.7 1289.9,767.2 C1290.3,767.8 1290.6,768.3 1291.0,768.9 C1291.4,769.5 1291.7,770.0 1292.1,770.6 C1292.5,771.1 1292.8,771.7 1293.2,772.2 C1293.6,772.8 1293.9,773.4 1294.3,773.9 C1294.7,774.5 1295.0,775.0 1295.4,775.6 C1295.7,776.2 1296.1,776.7 1296.5,777.3 C1296.8,777.8 1297.2,778.4 1297.6,779.0 C1297.9,779.5 1298.3,780.1 1298.7,780.6 C1299.0,781.2 1299.4,781.8 1299.7,782.3 C1300.1,782.9 1300.5,783.4 1300.8,784.0 C1301.2,784.6 1301.5,785.1 1301.9,785.7 C1302.3,786.3 1302.6,786.8 1303.0,787.4 C1303.3,787.9 1303.7,788.5 1304.1,789.1 C1304.4,789.6 1304.8,790.2 1305.1,790.8 C1305.5,791.3 1305.9,791.9 1306.2,792.4 C1306.6,793.0 1306.9,793.6 1307.3,794.1 C1307.6,794.7 1308.0,795.3 1308.3,795.8 C1308.7,796.4 1309.1,797.0 1309.4,797.5 C1309.8,798.1 1310.1,798.7 1310.5,799.2 C1310.8,799.8 1311.2,800.3 1311.5,800.9 C1311.9,801.5 1312.3,802.0 1312.6,802.6 C1313.0,803.2 1313.3,803.7 1313.7,804.3 C1314.0,804.9 1314.4,805.4 1314.7,806.0 C1315.1,806.6 1315.4,807.1 1315.8,807.7 C1316.1,808.3 1316.5,808.8 1316.8,809.4 C1317.2,810.0 1317.5,810.5 1317.9,811.1 C1318.2,811.7 1318.6,812.3 1318.9,812.8 C1319.3,813.4 1319.6,814.0 1320.0,814.5 C1320.3,815.1 1320.7,815.7 1321.0,816.2 C1321.4,816.8 1321.7,817.4 1322.1,817.9 C1322.4,818.5 1322.8,819.1 1323.1,819.6 C1323.4,820.2 1323.8,820.8 1324.1,821.4 C1324.5,821.9 1324.8,822.5 1325.2,823.1 C1325.5,823.6 1325.9,824.2 1326.2,824.8 C1326.6,825.4 1326.9,825.9 1327.2,826.5 C1327.6,827.1 1327.9,827.6 1328.3,828.2 C1328.6,828.8 1329.0,829.4 1329.3,829.9 C1329.6,830.5 1330.0,831.1 1330.3,831.6 C1330.7,832.2 1331.0,832.8 1331.4,833.4 C1331.7,833.9 1332.0,834.5 1332.4,835.1 C1332.7,835.7 1333.1,836.2 1333.4,836.8 C1333.7,837.4 1334.1,838.0 1334.4,838.5 C1334.8,839.1 1335.1,839.7 1335.4,840.3 C1335.8,840.8 1336.1,841.4 1336.4,842.0 C1336.8,842.5 1337.1,843.1 1337.5,843.7 C1337.8,844.3 1338.1,844.9 1338.5,845.4 C1338.8,846.0 1339.1,846.6 1339.5,847.2 C1339.8,847.7 1340.1,848.3 1340.5,848.9 C1340.8,849.5 1341.2,850.0 1341.5,850.6 C1341.8,851.2 1342.2,851.8 1342.5,852.3 C1342.8,852.9 1343.2,853.5 1343.5,854.1 C1343.8,854.7 1344.2,855.2 1344.5,855.8 C1344.8,856.4 1345.2,857.0 1345.5,857.5 C1345.8,858.1 1346.2,858.7 1346.5,859.3 C1346.8,859.9 1347.1,860.4 1347.5,861.0 C1347.8,861.6 1348.1,862.2 1348.5,862.8 C1348.8,863.3 1349.1,863.9 1349.5,864.5 C1349.8,865.1 1350.1,865.7 1350.4,866.2 C1350.8,866.8 1351.1,867.4 1351.4,868.0 C1351.8,868.6 1352.1,869.1 1352.4,869.7 C1352.7,870.3 1353.1,870.9 1353.4,871.5 C1353.7,872.0 1354.0,872.6 1354.4,873.2 C1354.7,873.8 1355.0,874.4 1355.4,874.9 C1355.7,875.5 1356.0,876.1 1356.3,876.7 C1356.7,877.3 1357.0,877.9 1357.3,878.4 C1357.6,879.0 1358.0,879.6 1358.3,880.2 C1358.6,880.8 1358.9,881.4 1359.2,881.9 C1359.6,882.5 1359.9,883.1 1360.2,883.7 C1360.5,884.3 1360.9,884.9 1361.2,885.4 C1361.5,886.0 1361.8,886.6 1362.1,887.2 C1362.5,887.8 1362.8,888.4 1363.1,888.9 C1363.4,889.5 1363.8,890.1 1364.1,890.7 C1364.4,891.3 1364.7,891.9 1365.0,892.5 C1365.3,893.0 1365.7,893.6 1366.0,894.2 C1366.3,894.8 1366.6,895.4 1366.9,896.0 C1367.3,896.6 1367.6,897.1 1367.9,897.7 C1368.2,898.3 1368.5,898.9 1368.8,899.5 C1369.2,900.1 1369.5,900.7 1369.8,901.3 C1370.1,901.8 1370.4,902.4 1370.7,903.0 C1371.1,903.6 1371.4,904.2 1371.7,904.8 C1372.0,905.4 1372.3,906.0 1372.6,906.5 C1373.0,907.1 1373.3,907.7 1373.6,908.3 C1373.9,908.9 1374.2,909.5 1374.5,910.1 C1374.8,910.7 1375.1,911.3 1375.5,911.8 C1375.8,912.4 1376.1,913.0 1376.4,913.6 C1376.7,914.2 1377.0,914.8 1377.3,915.4 C1377.6,916.0 1378.0,916.6 1378.3,917.1 C1378.6,917.7 1378.9,918.3 1379.2,918.9 C1379.5,919.5 1379.8,920.1 1380.1,920.7 C1380.4,921.3 1380.8,921.9 1381.1,922.5 C1381.4,923.1 1381.7,923.6 1382.0,924.2 C1382.3,924.8 1382.6,925.4 1382.9,926.0 C1383.2,926.6 1383.5,927.2 1383.8,927.8 C1384.1,928.4 1384.4,929.0 1384.8,929.6 C1385.1,930.2 1385.4,930.8 1385.7,931.3 C1386.0,931.9 1386.3,932.5 1386.6,933.1 C1386.9,933.7 1387.2,934.3 1387.5,934.9 C1387.8,935.5 1388.1,936.1 1388.4,936.7 C1388.7,937.3 1389.0,937.9 1389.3,938.5 C1389.6,939.1 1389.9,939.7 1390.2,940.3 C1390.6,940.8 1390.9,941.4 1391.2,942.0 C1391.5,942.6 1391.8,943.2 1392.1,943.8 C1392.4,944.4 1392.7,945.0 1393.0,945.6 C1393.3,946.2 1393.6,946.8 1393.9,947.4 C1394.2,948.0 1394.5,948.6 1394.8,949.2 C1395.1,949.8 1395.4,950.4 1395.7,951.0 C1396.0,951.6 1396.3,952.2 1396.6,952.8 C1396.9,953.4 1397.2,954.0 1397.5,954.6 C1397.8,955.2 1398.1,955.7 1398.4,956.3 C1398.7,956.9 1399.0,957.5 1399.3,958.1 C1399.6,958.7 1399.9,959.3 1400.2,959.9 C1400.5,960.5 1400.7,961.1 1401.0,961.7 C1401.3,962.3 1401.6,962.9 1401.9,963.5 C1402.2,964.1 1402.5,964.7 1402.8,965.3 C1403.1,965.9 1403.4,966.5 1403.7,967.1 C1404.0,967.7 1404.3,968.3 1404.6,968.9 C1404.9,969.5 1405.2,970.1 1405.5,970.7 C1405.8,971.3 1406.1,971.9 1406.4,972.5 C1406.6,973.1 1406.9,973.7 1407.2,974.3 C1407.5,974.9 1407.8,975.5 1408.1,976.1 C1408.4,976.7 1408.7,977.3 1409.0,977.9 C1409.3,978.5 1409.6,979.1 1409.9,979.7 C1410.2,980.3 1410.4,980.9 1410.7,981.5 C1411.0,982.1 1411.3,982.7 1411.6,983.3 C1411.9,983.9 1412.2,984.5 1412.5,985.1 C1412.8,985.7 1413.1,986.3 1413.3,986.9 C1413.6,987.5 1413.9,988.1 1414.2,988.7 C1414.5,989.3 1414.8,990.0 1415.1,990.6 C1415.4,991.2 1415.7,991.8 1416.0,992.4 C1416.2,993.0 1416.5,993.6 1416.8,994.2 C1417.1,994.8 1417.4,995.4 1417.7,996.0 C1418.0,996.6 1418.3,997.2 1418.6,997.8 C1418.9,998.4 1419.1,999.0 1419.4,999.6 C1419.7,1000.2 1420.0,1000.8 1420.3,1001.4 C1420.6,1002.0 1420.9,1002.6 1421.2,1003.2 C1421.5,1003.8 1421.7,1004.4 1422.0,1005.0 C1422.3,1005.6 1422.6,1006.2 1422.9,1006.8 C1423.2,1007.4 1423.5,1008.0 1423.8,1008.6 C1424.1,1009.2 1424.3,1009.8 1424.6,1010.4 C1424.9,1011.0 1425.2,1011.6 1425.5,1012.2 C1425.8,1012.8 1426.1,1013.4 1426.4,1014.0 C1426.7,1014.7 1426.9,1015.3 1427.2,1015.9 C1427.5,1016.5 1427.8,1017.1 1428.1,1017.7 C1428.4,1018.3 1428.7,1018.9 1429.0,1019.5 C1429.3,1020.1 1429.6,1020.7 1429.9,1021.3 C1430.1,1021.9 1430.4,1022.5 1430.7,1023.1 C1431.0,1023.7 1431.3,1024.3 1431.6,1024.9 C1431.9,1025.5 1432.2,1026.1 1432.5,1026.7 C1432.8,1027.3 1433.1,1027.9 1433.3,1028.5 C1433.6,1029.1 1433.9,1029.7 1434.2,1030.3 C1434.5,1030.9 1434.8,1031.5 1435.1,1032.1 C1435.4,1032.7 1435.7,1033.3 1436.0,1033.9 C1436.3,1034.5 1436.6,1035.1 1436.9,1035.7 C1437.2,1036.3 1437.4,1036.9 1437.7,1037.5 C1438.0,1038.1 1438.3,1038.7 1438.6,1039.3 C1438.9,1039.9 1439.2,1040.5 1439.5,1041.1 C1439.8,1041.7 1440.1,1042.3 1440.4,1042.9 C1440.7,1043.5 1441.0,1044.1 1441.3,1044.7 C1441.6,1045.3 1441.9,1045.9 1442.2,1046.5 C1442.5,1047.1 1442.8,1047.7 1443.1,1048.3 C1443.4,1048.9 1443.7,1049.5 1444.0,1050.1 C1444.3,1050.7 1444.6,1051.3 1444.9,1051.9 C1445.2,1052.5 1445.5,1053.0 1445.8,1053.6 C1446.1,1054.2 1446.4,1054.8 1446.7,1055.4 C1447.0,1056.0 1447.3,1056.6 1447.6,1057.2 C1447.9,1057.8 1448.2,1058.4 1448.5,1059.0 C1448.8,1059.6 1449.1,1060.2 1449.4,1060.8 C1449.7,1061.4 1450.0,1062.0 1450.3,1062.6 C1450.6,1063.2 1450.9,1063.8 1451.2,1064.4 C1451.5,1064.9 1451.9,1065.5 1452.2,1066.1 C1452.5,1066.7 1452.8,1067.3 1453.1,1067.9 C1453.4,1068.5 1453.7,1069.1 1454.0,1069.7 C1454.3,1070.3 1454.6,1070.9 1454.9,1071.5 C1455.3,1072.0 1455.6,1072.6 1455.9,1073.2 C1456.2,1073.8 1456.5,1074.4 1456.8,1075.0 C1457.1,1075.6 1457.4,1076.2 1457.8,1076.8 C1458.1,1077.4 1458.4,1077.9 1458.7,1078.5 C1459.0,1079.1 1459.3,1079.7 1459.6,1080.3 C1460.0,1080.9 1460.3,1081.5 1460.6,1082.1 C1460.9,1082.6 1461.2,1083.2 1461.6,1083.8 C1461.9,1084.4 1462.2,1085.0 1462.5,1085.6 C1462.8,1086.2 1463.2,1086.8 1463.5,1087.3 C1463.8,1087.9 1464.1,1088.5 1464.4,1089.1 C1464.8,1089.7 1465.1,1090.3 1465.4,1090.8 C1465.7,1091.4 1466.1,1092.0 1466.4,1092.6 C1466.7,1093.2 1467.1,1093.8 1467.4,1094.3 C1467.7,1094.9 1468.0,1095.5 1468.4,1096.1 C1468.7,1096.7 1469.0,1097.2 1469.4,1097.8 C1469.7,1098.4 1470.0,1099.0 1470.4,1099.6 C1470.7,1100.1 1471.0,1100.7 1471.4,1101.3 C1471.7,1101.9 1472.0,1102.5 1472.4,1103.0 C1472.7,1103.6 1473.0,1104.2 1473.4,1104.8 C1473.7,1105.3 1474.0,1105.9 1474.4,1106.5 C1474.7,1107.1 1475.1,1107.6 1475.4,1108.2 C1475.7,1108.8 1476.1,1109.4 1476.4,1109.9 C1476.8,1110.5 1477.1,1111.1 1477.5,1111.7 C1477.8,1112.2 1478.2,1112.8 1478.5,1113.4 C1478.8,1113.9 1479.2,1114.5 1479.5,1115.1 C1479.9,1115.7 1480.2,1116.2 1480.6,1116.8 C1480.9,1117.4 1481.3,1117.9 1481.6,1118.5 C1482.0,1119.1 1482.3,1119.6 1482.7,1120.2 C1483.1,1120.8 1483.4,1121.3 1483.8,1121.9 C1484.1,1122.5 1484.5,1123.0 1484.8,1123.6 C1485.2,1124.2 1485.6,1124.7 1485.9,1125.3 C1486.3,1125.9 1486.2,1125.6 1487.0,1127.0 C1487.8,1128.4 1489.5,1131.9 1491.0,1134.0 C1492.5,1136.1 1492.9,1138.2 1496.0,1139.3 C1499.1,1140.4 1502.5,1140.6 1509.8,1140.8 C1517.1,1141.0 1528.1,1140.8 1540.0,1140.5 C1551.9,1140.2 1541.2,1139.2 1581.2,1139.0 C1621.2,1138.8 1712.4,1139.2 1780.0,1139.4 C1847.6,1139.7 1952.5,1140.3 1987.0,1140.5" fill="none" stroke="#22dd2a" stroke-width="6.5" stroke-linecap="round" stroke-linejoin="round"/><g font-family="Liberation Sans, Arial, sans-serif" font-weight="bold" fill="#000" stroke="#000" stroke-width="0.7" stroke-linejoin="round" style="font-kerning:none"><text x="926.24" y="101.00" font-size="83.87" textLength="75.13" lengthAdjust="spacingAndGlyphs" fill="#000" >(i)</text><text transform="scale(0.7658,1)" x="1339.52 1402.26" y="101.00" font-size="83.87">CF</text><text x="1174.31" y="101.00" font-size="83.87" textLength="223.79" lengthAdjust="spacingAndGlyphs" fill="#000" >Epoxy</text><text transform="translate(1111.43,111.98) skewX(-7.14)" font-size="106.09">/</text><text x="926.12" y="210.50" font-size="83.87" textLength="97.55" lengthAdjust="spacingAndGlyphs" fill="#000" >(ii)</text><text transform="scale(0.7601,1)" x="1378.74 1441.52" y="210.50" font-size="83.87">CF</text><text x="1196.01" y="210.50" font-size="83.87" textLength="223.79" lengthAdjust="spacingAndGlyphs" fill="#000" >Epoxy</text><text transform="scale(1.0027,1)" x="1475.13 1521.33 1545.05 1590.97 1659.15 1685.15" y="210.50" font-size="83.87">0.2wt%</text><text x="1762.31" y="210.50" font-size="83.87" textLength="152.32" lengthAdjust="spacingAndGlyphs" fill="#000" >NDs</text><text transform="translate(1133.60,221.85) skewX(-6.45)" font-size="107.17">/</text><text transform="translate(1420.90,221.94) skewX(-6.82)" font-size="107.97">/</text><text x="926.13" y="319.90" font-size="83.87" textLength="119.54" lengthAdjust="spacingAndGlyphs" fill="#000" >(iii)</text><text transform="scale(0.7582,1)" x="1414.15 1477.20" y="319.90" font-size="83.87">CF</text><text x="1218.72" y="319.90" font-size="83.87" textLength="223.58" lengthAdjust="spacingAndGlyphs" fill="#000" >Epoxy</text><text transform="scale(0.9867,1)" x="1523.60 1570.37 1594.03 1641.48 1710.46 1737.27" y="319.90" font-size="83.87">0.4wt%</text><text x="1786.41" y="319.90" font-size="83.87" textLength="152.32" lengthAdjust="spacingAndGlyphs" fill="#000" >NDs</text><text transform="translate(1157.61,330.47) skewX(-6.68)" font-size="106.23">/</text><text transform="translate(1443.72,330.88) skewX(-6.74)" font-size="105.69">/</text><text x="1273.78" y="917.40" font-size="67.50" textLength="62.94" lengthAdjust="spacingAndGlyphs" fill="#000" >(i)</text><text x="1403.60" y="970.70" font-size="67.50" textLength="81.00" lengthAdjust="spacingAndGlyphs" fill="#000" >(ii)</text><text x="1571.61" y="1041.10" font-size="67.50" textLength="99.08" lengthAdjust="spacingAndGlyphs" fill="#000" >(iii)</text><text transform="scale(0.9382,1)" x="957.67 1004.65 1058.96 1143.81 1201.57 1254.28 1287.18 1344.86 1379.26 1436.11 1472.94" y="1377.30" font-size="92.44">Temperature</text><text x="1452.46" y="1375.00" font-size="92.44" textLength="24.31" lengthAdjust="spacingAndGlyphs" fill="#000" >(</text><text x="1482.71" y="1346.60" font-size="55.90" textLength="34.17" lengthAdjust="spacingAndGlyphs" fill="#000" >o</text><text x="1519.11" y="1377.00" font-size="91.86" textLength="50.92" lengthAdjust="spacingAndGlyphs" fill="#000" >C</text><text x="1574.43" y="1375.00" font-size="92.44" textLength="24.31" lengthAdjust="spacingAndGlyphs" fill="#000" >)</text><g transform="rotate(-90)"><text transform="scale(0.8866,1)" x="-1143.53 -1079.93 -1028.70 -980.34 -952.25 -891.56 -833.70 -776.14" y="110.00" font-size="90.12">Residual</text><text transform="scale(0.9935,1)" x="-642.91 -560.08 -509.74 -488.19 -438.93 -382.02" y="110.00" font-size="90.12">Weight</text><text x="-324.40" y="110.00" font-size="90.12" textLength="131.20" lengthAdjust="spacingAndGlyphs" fill="#000" >(%)</text></g></g>
</svg></body></html>
